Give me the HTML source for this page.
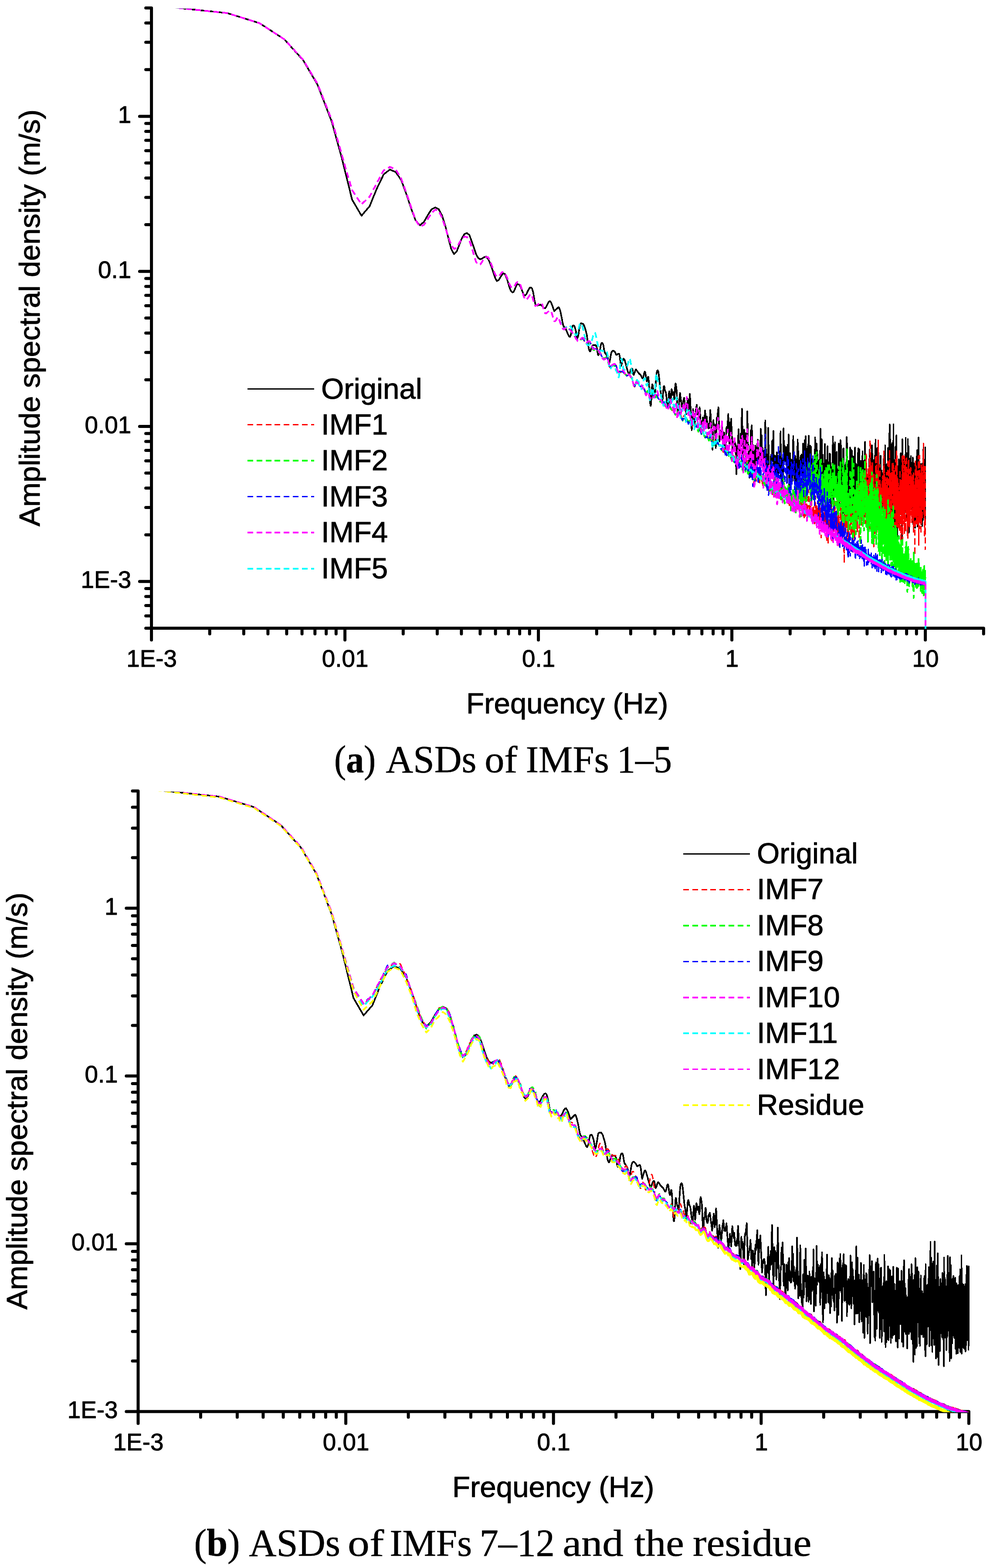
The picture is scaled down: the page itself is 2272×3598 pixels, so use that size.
<!DOCTYPE html>
<html lang="en">
<head>
<meta charset="utf-8">
<title>ASDs of IMFs</title>
<style>
html, body { margin: 0; padding: 0; background: #fff; }
body { width: 2272px; height: 3598px; overflow: hidden; }
svg { display: block; }
text { font-family: "Liberation Sans", Arial, sans-serif; fill: #000; stroke: #000; stroke-width: 1px; stroke-linejoin: round; }
g.cap text { font-family: "Liberation Serif", "DejaVu Serif", serif; stroke-width: 0.6px; }
</style>
</head>
<body>
<svg width="2272" height="3598" viewBox="0 0 2272 3598">
<rect width="2272" height="3598" fill="#fff"/>
<path d="M347.6 18.2V1441.4M347.6 1441.4H2257.3M347.6 1441.4h-13M347.6 1413.2h-13M347.6 1389.4h-13M347.6 1368.8h-13M347.6 1350.6h-13M347.6 1334.3h-27.2M347.6 1227.2h-13M347.6 1164.5h-13M347.6 1120.1h-13M347.6 1085.6h-13M347.6 1057.4h-13M347.6 1033.6h-13M347.6 1013h-13M347.6 994.8h-13M347.6 978.5h-27.2M347.6 871.4h-13M347.6 808.7h-13M347.6 764.3h-13M347.6 729.8h-13M347.6 701.6h-13M347.6 677.8h-13M347.6 657.2h-13M347.6 639h-13M347.6 622.7h-27.2M347.6 515.6h-13M347.6 452.9h-13M347.6 408.5h-13M347.6 374h-13M347.6 345.8h-13M347.6 322h-13M347.6 301.4h-13M347.6 283.2h-13M347.6 266.9h-27.2M347.6 159.8h-13M347.6 97.1h-13M347.6 52.7h-13M347.6 18.2h-13M347.6 1441.4v27.2M481.3 1441.4v13M559.4 1441.4v13M614.9 1441.4v13M657.9 1441.4v13M693.1 1441.4v13M722.8 1441.4v13M748.6 1441.4v13M771.3 1441.4v13M791.6 1441.4v27.2M925.3 1441.4v13M1003.4 1441.4v13M1058.9 1441.4v13M1101.9 1441.4v13M1137.1 1441.4v13M1166.8 1441.4v13M1192.6 1441.4v13M1215.3 1441.4v13M1235.6 1441.4v27.2M1369.3 1441.4v13M1447.4 1441.4v13M1502.9 1441.4v13M1545.9 1441.4v13M1581.1 1441.4v13M1610.8 1441.4v13M1636.6 1441.4v13M1659.3 1441.4v13M1679.6 1441.4v27.2M1813.3 1441.4v13M1891.4 1441.4v13M1946.9 1441.4v13M1989.9 1441.4v13M2025.1 1441.4v13M2054.8 1441.4v13M2080.6 1441.4v13M2103.3 1441.4v13M2123.6 1441.4v27.2M2257.3 1441.4v13" fill="none" stroke="#000" stroke-width="7.0" stroke-linecap="round" stroke-linejoin="round"/>
<g font-size="54.8" text-anchor="end">
<text x="301.2" y="1349.4">1E-3</text>
<text x="301.2" y="993.6">0.01</text>
<text x="301.2" y="637.8">0.1</text>
<text x="301.2" y="282">1</text>
</g>
<g font-size="54.8" text-anchor="middle">
<text x="348.1" y="1530.1">1E-3</text>
<text x="792.1" y="1530.1">0.01</text>
<text x="1236.1" y="1530.1">0.1</text>
<text x="1680.1" y="1530.1">1</text>
<text x="2124.1" y="1530.1">10</text>
</g>
<text x="1301.8" y="1636.9" font-size="67.25" text-anchor="middle">Frequency (Hz)</text>
<text transform="translate(91 729.5) rotate(-90)" font-size="67.25" text-anchor="middle">Amplitude spectral density (m/s)</text>
<path d="M317 1814.9V3239M317 3239H2223.4M317 3239h-27.2M317 3123.1h-13M317 3055.3h-13M317 3007.2h-13M317 2969.9h-13M317 2939.4h-13M317 2913.6h-13M317 2891.3h-13M317 2871.6h-13M317 2854h-27.2M317 2738.1h-13M317 2670.3h-13M317 2622.2h-13M317 2584.9h-13M317 2554.4h-13M317 2528.6h-13M317 2506.3h-13M317 2486.6h-13M317 2469h-27.2M317 2353.1h-13M317 2285.3h-13M317 2237.2h-13M317 2199.9h-13M317 2169.4h-13M317 2143.6h-13M317 2121.3h-13M317 2101.6h-13M317 2084h-27.2M317 1968.1h-13M317 1900.3h-13M317 1852.2h-13M317 1814.9h-13M317 3239v27.2M460.5 3239v13M544.4 3239v13M603.9 3239v13M650.1 3239v13M687.9 3239v13M719.8 3239v13M747.4 3239v13M771.8 3239v13M793.6 3239v27.2M937.1 3239v13M1021 3239v13M1080.5 3239v13M1126.7 3239v13M1164.5 3239v13M1196.4 3239v13M1224 3239v13M1248.4 3239v13M1270.2 3239v27.2M1413.7 3239v13M1497.6 3239v13M1557.1 3239v13M1603.3 3239v13M1641.1 3239v13M1673 3239v13M1700.6 3239v13M1725 3239v13M1746.8 3239v27.2M1890.3 3239v13M1974.2 3239v13M2033.7 3239v13M2079.9 3239v13M2117.7 3239v13M2149.6 3239v13M2177.2 3239v13M2201.6 3239v13M2223.4 3239v27.2" fill="none" stroke="#000" stroke-width="7.0" stroke-linecap="round" stroke-linejoin="round"/>
<g font-size="54.8" text-anchor="end">
<text x="270.6" y="3254.1">1E-3</text>
<text x="270.6" y="2869.1">0.01</text>
<text x="270.6" y="2484.1">0.1</text>
<text x="270.6" y="2099.1">1</text>
</g>
<g font-size="54.8" text-anchor="middle">
<text x="317.5" y="3327.7">1E-3</text>
<text x="794.1" y="3327.7">0.01</text>
<text x="1270.7" y="3327.7">0.1</text>
<text x="1747.3" y="3327.7">1</text>
<text x="2223.9" y="3327.7">10</text>
</g>
<text x="1269.6" y="3434.5" font-size="67.25" text-anchor="middle">Frequency (Hz)</text>
<text transform="translate(62.1 2526.6) rotate(-90)" font-size="67.25" text-anchor="middle">Amplitude spectral density (m/s)</text>
<clipPath id="ca"><rect x="347.6" y="19.7" width="2000" height="1423.2"/></clipPath>
<clipPath id="cb"><rect x="317.0" y="1816.4" width="2000" height="1424.1"/></clipPath>
<g fill="none" stroke-linejoin="round" shape-rendering="crispEdges" clip-path="url(#ca)">
<path d="M386.1 16l20.2 2l115.1 12l73.9 23l56.9 37l43.4 48l32.9 56l32.8 85l23 83l23.7 96l21.7 37l18.7-22l15.4-38l16.8-35l14.3-11l13.3 6l12.5 18l11.7 32l11 33l10.4 28l9.9 11l9.4-8l9-16l8.6-13l8.2-4l7.8 4l7.6 14l7.3 23l7 28l6.8 26l6.5 12l6.3-6l6.1-16l6-15l5.7-9l5.6-2l5.5 4l5.2 14l5.2 15l5 15l4.9 9l4.7 3l4.7-2l4.5-3l4.4-1l4.4 5l4.2 9l4.2 11l4 12l4 12l3.9 7l3.8-2l3.8-6l3.6-6l3.6-4l3.6 2l3.5 8l3.4 10l3.3 12l3.3 8l3.3 4l3.1-1l3.2-7l3.1-8l3-3l3 1l2.9 4l2.9 6l2.9 8l2.8 6l2.8 1l2.7-3l2.7-6l2.7-5l2.6-4l2.6 0l2.5 2l2.6 9l2.4 15l2.5 12l2.4 3l2.4 0l2.4-1l2.3 0l2.3-1l2.3 2l2.3 2l2.2 3l2.2 1l2.2 0l2.1-3l2.2-5l2.1-4l2.1-3l2-1l2.1 2l2 5l2 5l2 6l1.9 5l9.5-9l1.9 2l1.8 5l1.8 7l1.8 9l1.8 10l1.7 8l1.8 4l1.7 1l1.7 3l1.7 3l1.7 4l1.7 4l1.6 4l1.7 3l1.6 1l1.6-2l1.6-6l1.6-10l1.6-7l1.5-1l1.6 0l1.5 2l1.5 5l1.6 6l1.5 8l1.4 9l1.5-3l1.5-7l1.4-9l1.5-10l1.4-4l1.4-2l1.5 0l1.4 1l1.4 0l1.3 1l1.4 3l1.4 3l1.3 4l1.4 5l1.3 5l1.3 6l1.3 11l1.4 10l1.2 7l1.3 5l1.3 3l1.3 0l1.3-4l1.2-4l1.3-3l1.2-2l1.2-1l1.3 0l1.2 0l1.2 0l1.2 0l1.2 0l1.2 2l1.1 3l1.2 6l1.2 9l1.1 3l1.2-1l1.1-3l1.2-4l1.1-7l1.1-7l1.1-4l1.2-2l1.1 0l1.1 1l1.1 2l1 5l1.1 8l1.1 4l1.1 3l1 1l1.1 1l1 2l1.1 2l1 2l1.1 3l1 8l1 8l1-1l1-5l1-5l1-5l1-6l1-5l1-2l1-2l1-1l.9 0l1 0l1 1l.9 0l1 1l.9 1l1 2l.9 3l.9 1l1 0l.9 0l.9-1l.9-1l.9 0l1 0l.9 0l.9 3l.9 5l.8 7l.9 9l.9 4l.9-2l.9-4l.8-3l.9-2l.9-3l.8-1l.9-2l.8 1l.9 1l.8 2l.9 3l.8 3l.8 3l.9 3l.8 3l.8 4l.8 2l.8 3l.9 3l.8 2l.8 2l.8 1l.8-1l.8-3l.8-2l.7-3l.8-2l.8-1l.8-1l.8 0l.7 0l.8 1l.8 5l.7 5l.8 3l.8 0l.7-2l.8-2l.7-2l.8-3l.7-2l.7-1l.8 0l.7 1l.7 1l.8 1l.7 1l.7 1l.7 1l.8 1l.7 1l.7 1l.7 0l.7 1l.7 1l.7 0l.7 1l.7 1l.7 1l.7 1l.7 2l.7 2l.7 1l.6 0l.7-1l.7-1l.7-2l.7-3l.6-3l.7-3l.7-2l.6 0l.7 1l.6 3l.7 4l.7 5l.6 5l.7 3l.6 1l.7-1l.6-3l.6-4l.7-2l.6 0l.7 5l.6 8l.6 10l.6 11l.7 11l.6 9l.6 7l.6 5l.7 0l.6-5l.6-9l.6-12l.6-11l.6-9l.6-3l.6 1l.6 4l.6 5l.6 3l.6 2l.6 2l.6 2l.6 3l.6 2l.6-1l.6-4l.6-8l.6-9l.5-11l.6-8l.6-7l.6-3l.5-3l.6-1l.6-1l.6 0l.5 1l.6 1l.6 3l.5 3l.6 5l.5 5l.6 5l.6 6l.5 6l.6 6l.5 4l.6 4l.5 3l.6 3l.5 4l.6 5l.5 4l.5 3l.6 0l.5-3l.6-7l.5-7l.5-7l.6-6l.5-4l.5-1l.5 0l.6 2l.5 4l.5 3l.5 2l.6 1l.5 1l.5 1l.5 2l.5 4l.5 4l.6 5l.5 5l.5 3l.5 4l.5 3l.5 2l.5 0l.5-3l.5-6l.5-8l.5-9l.5-6l.5-2l.5 3l.5 8l.5 9l.5 7l.5 3l.4-3l.5-7l.5-9l.5-8l.5-6l.5-2l.5 2l.4 4l.5 4l.5 3l.5 0l.4-1l.5-3l.5-2l.5 0l.4 3l.5 6l.5 5l.4 2l.5-3l.5-8l.4-9l.5-9l.5-5l.4-2l.5 1l.4 2l.5 3l.4 3l.5 4l.5 6l.4 9l.5 11l.4 12l1.4 21l4.8-50l4.3 32l5.1-21l4.9 37l3.2-35l2.4 28l2.7-39l4.3 83l3-48l3.7 36l2.9-36l.3 0l1.5-10l1.8 22l1.4-5l1 6l2.5-17l4.1 58l3.3-35l2.7 26l2.2-42l2.9 25l1.3-11l1.6 25l.9-4l1.3 6l1.2-11l.9 10l2.2-41l5.1 91l2-68l1.5 23l1.5-12l2.3 53l2.2-69l.9 3l3-27l2.5 78l3.8-26l.5 1l1.3-18l1.6 41l1.1-19l1 35l1.8-34l2.8 36l2.3-49l1 12l3-42l2.4 72l2.2-53l.7 7l1.2-15l3.5 79l2.6-27l.9 6l1.1-8l.9 9l.7-4l2.3 72l1.7-64l1.1 14l2.2-53l1.3 75l1.5-43l.9 16l1.3-38l1 28l1.9-85l3.1 138l1.9-90l1.2 17l1.2-9l1.8 61l1-40l.8 15l1.3-86l1.8 86l.4-1l2.5 67l1.7-68l.6 6l1.1-47l1.1 28l1.1-39l2.4 91l1.1-45l2.7 82l2-81l2 50l.3-1l.5 6l1.3-60l.5 4l1.2-13l1.2 48l1.2-19l1 22l.9-14l.8 14l1.3-76l1.2 47l1-32l1 59l1-30l.8 26l.3-1l1 21l1.9-40l1.1 29l1.3-98l2.5 129l.9-46l1.9 41l1.5-107l1.2 98l.5-10l1.4 33l.9-24l.7 40l1.5-75l1.3 48l1.2-80l1.1 46l1.9-69l1.6 112l.8-48l.8 34l.8-41l.8 19l.5-4l.8 41l1.8-64l1 58l1.1-23l1 33l1-57l.5 15l.4-3l.6 17l1-42l1.1 40l.9-86l1.2 131l1.2-69l.8 24l.6-16l1.3 50l1.8-127l1.1 83l1.4-43l.9 34l.7-26l.9 29l.5-23l.6 21l.6-32l.9 82l1.7-87l.8 59l1.4-83l1.9 148l1.7-105l1.7 75l1.1-60l.6 22l.6-10l.9 37l.8-47l.3 0l1.1-56l.9 62l.6-11l1.1 51l.6-33l.4 6l.6-30l2.1 79l1.4-71l.7 57l1.7-102l.9 78l.9-52l.8 59l.7-20l.9 27l.5-14l.9 33l1.2-74l.6 37l.4-8l.2 0l.8-32l1.3 50l.3-4l.6 57l.7-92l.3 6l.5-42l1.6 112l1.3-84l.2 0l.9-36l1 67l.8-76l.6 52l.8-19l.7 48l.6-52l.7 112l.6-88l.4 49l.9-79l.2 3l.5-8l.3 3l.3-7l.2 2l.5-17l.8 68l.4-7l.6 39l1.6-77l1.1 75l.6-73l.8 59l.4-11l.4 59l.7-74l.5 28l.2-1l.9 20l.6-51l1.6 48l.3-25l.5 31l.7-37l.8 34l.9-101l.4 22l.2-2l1.1 92l.7-50l.1 0l.9-48l.6 42l.5-27l.4 18l.5-9l.6 49l.4-20l.6 35l.8-40l.8 84l.8-94l.6 24l.4-17l.5 63l.5-92l.5 42l.6-92l.9 90l.3-3l.5 55l1-118l.9 117l.6-45l.4 19l.8-55l.8 101l.7-74l.4 34l.2-13l.4 29l.7-58l.5 28l.7-72l1.5 124l.6-86l.5 74l.6-75l.4 33l.3-22l.6 100l.7-90l.5 47l.6-100l1.1 154l.6-117l.4 14l.5-13l.2 7l.2-4l.5 39l1.2-63l.5 93l.6-92l.5 63l.2-6l.2 5l.5-42l1.1 107l1.2-96l.1 0l.2-1l.5 39l.2-5l.4 24l.5-81l.3 8l.7-55l.9 187l.7-134l.3 11l.3-11l.2 2l.7-25l.2 7l.2-12l.5 41l.8-53l.9 87l1.6-60l.2 4l.2-4l.4 50l.6-55l.6 92l.7-51l.6 99l.4-24l.2 3l.3-7l.4 35l1.3-162l.1 6l.3-10l.6 92l.3-26l.4 75l.4-66l.3 19l.1-2l.3 11l1.2-111l.6 72l0-1l.4 28l.5-87l.4 100l.4-24l.5 27l.3-17l.4 6l.6-61l.4 125l.9-112l.2 8l.6-44l.4 64l.3-14l.2 16l.4-67l.3 51l.2-6l.6 113l.9-67l.5 18l.3-15l.3 14l.5-69l.4 59l.7-56l.1 4l.3-13l.3 39l.2-9l.4 72l.8-161l.3 74l.4-61l.5 97l.4-28l.9 113l1-91l.4 81l.5-130l.4 94l.4-78l.6 63l.2-27l.3 12l.1-5l.4 64l.9-154l.7 57l.1 0l.4 99l.3-39l.1 10l.6-122l.4 111l.3-38l.7 44l.4-69l.2 15l.6-60l.9 142l.2-15l.2 26l.3-64l.4 30l.3-26l.2 16l.9-96l.8 130l.4-62l.2 45l.4-62l.2 5l.1-3l.5 72l.6-146l.4 119l.2-18l.3 36l.4-55l.3 62l.4-107l.4 28l.2-15l.3 41l.3-38l.3 65l.4-48l.2 13l.2-4l.2 12l.3-16l.9 84l.4-121l.4 103l.6-130l.3 16l.2-25l.2 30l.2-5l.3 61l.3-24l.8 107l.2-33l.2 5l.4-139l.3 72l.3-46l.3 56l.2-44l.3 45l.4-32l.5 97l.6-117l.6 74l.5-78l.5 39l.3-32l.7 84l.4-24l.2 8l.3-71l.2 6l.5-32l.8 150l.5-50l.6 45l.4-123l.2 14l.2-12l.6 123l.3-51l.2 65l.7-114l.2 28l.4-86l.3 44l.3-55l.6 132l.6-83l.4 102l.3-69l.2 9l.2-13l.3 20l.3-39l.6 97l.3-82l.5 74l.4-47l.3 33l.3-52l.4 31l.2-18l.2 10l.2-14l.4 95l.4-108l.3 48l.3-32l.4 53l.2-45l.3 51l.7-113l.3 89l.2-16l.4 43l.5-138l.4 105l.1-3l.2 2l.3-93l.3 52l.2-14l.4 15l.3-47l.3 26l.1-1l.4 90l.2-36l.2 37l.3-46l.1 3l.1-2l.2 19l.3-56l.2 43l.4-104l.3 158l.9-139l.2 9l0-3l.3 104l.4-96l.3 67l.1-8l.3 77l.5-84l.6 60l0-1l.3 63l.5-173l.1 1l.1-1l.3 99l.3-39l.4 64l.3-56l.2 42l.5-121l.5 169l.6-114l0 5l.5-96l.5 180l.6-116l.3 126l.6-92l.1 10l.4-66l.5 145l.2-72l.2 11l.4-107l.4 117l.3-27l.1 7l.4-37l.2 20l.2-21l.3 51l.3-50l.1 1l.3-51l.1 19l.2-13l.7 105l.2-13l.4 53l.4-71l.2 27l.3-66l.3 28l.3-33l.3 121l.5-94l.1 5l.2-11l.4 73l.7-122l.7 94l.4-56l.4 87l.1-20l.1 7l.2-13l.2 17l.3-82l.4 86l.3-64l.5 55l.3-54l.1 15l.3-31l.2 24l.1-16l.3 43l.1-19l.3 58l.4-92l.3 65l.2-14l.2 31l.2-90l.3 90l.3-115l.3 65l.2-70l.4 122l.3-95l.2 58l.2-49l.2 121l.3-71l.5 84l.5-195l.4 71l.2-27l.3 101l.4-89l.4 114l.2-92l.3 44l.3-64l.2 111l.3-99l.2 27l.4-36l.2 45l.3-63l.2 89l.3-80l.2 67l.4-47l.2 43l.1-15l.1 20l1.1-114l.4 112l.1-14l.2 10l.2-35l.2 94l.4-137l.1 52l.2-54l.3 106l.4-71l.2 14l.4-112l.2 113l.3-132l.4 161l.2-17l.3 40l.4-150l.3 79l.1-9l.2 38l.1-16l.3 93l.5-121l.2 39l0-4l.2 29l.4-46l.2 118l.4-148l.3 94l.4-134l.2 97l.2-25l.1 19l.5-94l.4 158l.1-35l.2 10l0-2l.2 12l.2-42l.1 48l.3-93l.2 59l.1-58l.3 119l.8-219l.3 154l.1-21l.3 59l.3-61l.3 63l.3-78l.3 29l.3-37l.5 139l.4-165l.3 49l.2-30l.1 31l.4-52l.4 58l.2-87l.2 99l.3-77l.7 124l.2-66l.3 114l.4-220l.3 97l.2-36l.1 46l.2-58l.4 126l.3-85l.3 146l.2-95l.3 61l.3-131l.2 71l.2-39l.4 38l.1-30l.2 32l.1-17l.3 49l.1-12l.1 44l.4-112l.1-14l.3 81l.3-104l0 6l.1-9l.3 109l.1 5l.3-71l.3 44l.2-26l.2 33l.1 0l.2 16l.1-13l.2 15l.3-103l.4 106l.2-70l.2 54l.3-68l.4 92l.6-137l.4 129l.5-113l.2 75l.2-64l.3 66l0-4l.2 50l.3-67l.1 70l.3-65l.1 44l.3-26l.2 104l.4-231l.2 133l.2-61l.3 82l.2-58l.1 2l.2-55l.1 67l.2-23l.2 50l.2-64l.2 96l.5-122l.4 116l.2-56l.3 13l.2-59l.2 81l.2-79l.1 51l.1-4l.5 86l.2-105l.2 60l.3-62l.4 80l.3-64l.1 9l.4-78l.2 131l.2-45l.1 22l.3-96l.2 77l.2-128l.2 127l.2-38l.2 52l.5-95l.3 78l.1-31l.2 39l.2-97l.2 122l.2-64l.3 65l.2-79l.4 107l.2-128l.3 127l.1-40l.2 77l.4-163l.2 79l.3-135l.4 163l.3-111l.2 69l.2-38l.2 56l.1-25l.1 6l.3-104l.4 198l.3-118l.5 103l.3-89l.1 51l.2-32l.1 24l.2-48l.1 8l.1-16l.2 24l.1-57l.2 26l0-1l.3 92l.2-41l.1 14l.3-110l.2 90l.3-67l.2 11l0-11l.3 73l.5-101l.2 32l.1-8l.2 86l.3-33l0 11l.2-28l.1 7l0-5l.2 48l.2-82l.3 38l.1-15l.3 80l.2-72l.2 55l.2-29l.3 29l.3-100l.2 56l.1-24l.3 65l.2-108l.7 152l.2-105l.1 24l.2-22l.1 44l.2-44l.2 75l.1-12l.1 49l.3-141l.2 76l.2-83l.2 81l.2-34l0 3l.2-10l.2 107l.2-54l.1 12l.2-73l.1 15l.1-30l.4 107l.1-14l.1 7l.1-26l.1 24l.1 0l.2 33l.3-74l.1 16l.2-28l.2 39l.3-98l.2 56l.2-48l.4 89l.2-52l.1 64l.2-106l.2 79l.1-24l.1 35l.5-82l.2 122l.5-152l.2 104l.1-26l.2 30l.2-89l.2 39l.2-72l.1 160l.2-72l.1 87l.2-66l.1 10l.1-28l.1 22l.2-23l.2 48l.2-35l.2-35l.2 56l.1-26l.1 2l.3-70l.2 34l.4-93l.1 83l.1-31l.2 155l.3-128l.1 17l.2-38l.2 76l.2-41l.1 4l.1-26l.2 45l0-4l.2 41l.1-7l.1 28l.2-87l.1 35l.1-17l.2 41l.1-31l.2 72l.2-109l.2 76l.2-51l.1 44l.1-27l.1 13l.1-5l.2 67l.2-134l.1 69l.2-58l.2 69l0-12l.2 60l.1-24l.2 29l.2-40l.1 21l.2-45l.1 10l.1-2l.1 36l.2-81l.1 36l.2-64l.3 133l.3-54l.1 23l.3-46l.2 20l.2-81l.2 143l.2-133l.2 81l.2-39l.1 23l.3-49l.1 23l.1-29l.2 110l.2-62l0 3l.4-40l0 6l.1-23l.2 40l.1-75l.2 103l.2-116l.1 16l.1-21l.3 154l.2-60l.1 64l.2-76l.1 15l.1-24l.2 84l.1-25l0 8l.2-61l.1 64l.2-110l.4 73l.2-23l.1 16l0-2l.2 46l.1-14l.1 10l.3-109l.2 148l.2-111l.2 103l.4-168l0 10" stroke="#000" stroke-width="3.7"/>
<path d="M386.1 16l20.2 2l115.1 12l73.9 23l56.9 37l43.4 47l32.9 55l32.8 83l18.7 64l13.1 47l14.9 50l21.5 33l18.9-18l15.4-29l14.8-28l2-3l14.3-8l13.3 6l12.5 21l11.7 32l11 33l10.4 30l9.9 15l9.4-4l9-14l8.6-13l8.2-8l7.8 3l7.6 15l7.3 22l7 22l6.8 19l6.5 9l6.3-2l6.1-12l6-10l5.7-4l5.6 1l5.5 7l5.2 16l5.2 18l5 16l4.9 6l4.7 0l4.7-7l4.5-8l4.4-2l4.4 0l4.2 8l4.2 11l4 11l4 10l3.9 5l3.8-1l3.8-4l3.6-5l3.6-1l3.6 3l3.5 7l3.4 8l3.3 10l3.3 6l3.3 2l3.1 0l3.2-5l3.1-6l3-2l3 1l2.9 5l2.9 8l2.9 11l2.8 10l2.8 5l2.7 1l2.7-3l2.7-4l2.6-4l2.6-2l2.5 3l2.6 10l2.4 9l2.5 5l2.4-1l2.4-1l2.4-2l2.3-2l2.3-1l2.3 0l2.3 5l2.2 8l2.2 8l2.2 3l2.1 0l2.2-2l2.1-2l2.1-1l2-1l2.1 0l2 5l2 7l2 7l1.9 5l2 0l1.9-2l1.9-4l1.9-3l1.8 0l1.9 6l1.8 5l1.8 5l1.8 4l1.8 4l1.7 2l1.8 2l1.7-1l1.7-1l1.7-2l1.7 0l1.7 0l1.6 1l1.7 1l1.6 2l1.6 1l1.6 2l1.6 2l1.6 3l1.5 2l1.6 3l1.5 3l1.5 3l1.6 2l1.5 2l1.4 2l1.5 1l1.5 1l1.4-1l1.5 0l1.4-2l1.4-1l1.5-1l1.4-1l1.4 1l1.3 1l1.4 3l1.4 2l1.3 2l1.4 2l1.3 0l1.3 0l1.3-1l1.4-2l1.2 0l1.3 0l1.3 2l1.3 2l1.3 3l1.2 2l1.3 3l1.2 2l1.2 1l1.3 1l1.2 0l1.2 0l1.2-1l1.2 0l1.2-1l1.1 1l1.2 1l1.2 1l1.1 2l1.2 1l1.1 2l1.2 2l1.1 2l1.1 2l1.1 3l1.2 3l1.1 2l1.1 1l1.1 1l1 0l1.1 0l1.1 0l1.1 0l1-1l1.1-1l1 0l1.1 0l1 1l1.1 3l1 4l1 5l1 4l1 3l1 2l1 0l1 0l1-2l1-2l1-1l1-1l.9 0l1-1l1 0l.9 0l1 0l.9 0l1 1l.9 1l.9 1l1 3l.9 3l.9 3l.9 3l.9 3l1 1l.9 0l.9 0l.9 0l.8-1l.9 0l.9 0l.9 0l.9-1l.8 0l.9 0l.9 1l.8 0l.9 1l.8 1l.9 1l.8 1l.9 1l.8 1l.8 0l.9 1l.8 0l.8 1l.8 0l.8-1l.9 0l.8-1l.8 0l.8 0l.8 1l.8 1l.8 1l.7 1l.8 1l.8 1l.8 1l.8 2l.7 2l.8 2l.8 3l.7 3l.8 4l.8 3l.7 1l.8 1l.7-2l.8-2l.7-3l.7-3l.8-2l.7-1l.7-1l.8 1l.7 1l.7 2l.7 1l.8 2l.7 1l.7 1l.7 1l.7 1l.7 0l.7 1l.7 1l.7 0l.7 0l.7-1l.7 0l.7 1l.7 0l.6 1l.7 1l.7 0l.7 1l.7 1l.6 1l.7 1l.7 2l.6 2l.7 2l.6 2l.7 1l.7 1l.6 0l.7-1l.6-2l.7-1l.6-1l.6-1l.7 0l.6 0l.7 1l.6 1l.6 1l.6 2l.7 2l.6 2l.6 2l.6 0l.7 0l.6-1l.6-1l.6-1l.6-1l.6 0l.6 1l.6 1l.6 1l.6 2l.6 1l.6 1l.6 1l.6 1l.6 0l.6 0l.6-1l.6-1l.6-1l.6-1l.5-2l.6-1l.6 0l.6 0l.5 0l.6 2l.6 2l.6 2l.5 2l.6 1l.6 1l.5 1l.6 1l.5 0l.6 1l.6 1l.5 0l.6 0l.5 0l.6 0l.5 0l.6 0l.5 0l.6 0l.5 1l.5 2l.6 1l.5 1l.6 1l.5 0l.5 0l.6 0l.5-1l.5 0l.5 1l.6 1l.5 1l.5 2l.5 1l.6 0l.5 1l.5 0l.5 0l.5-1l.5 0l.6 0l.5 1l.5 0l.5 1l.5 1l.5 0l.5 0l.5 1l.5 0l.5 0l.5 0l.5 0l.5-1l.5 0l.5 0l.5 1l.5 0l.5 1l.4 1l.5 1l.5 0l.5 1l.5 1l.5 1l.5 0l.4 1l.5-1l.5 0l.5-1l.4-1l.5 0l.5 1l.5 1l.4 1l.5 1l.5 2l.4 0l.5 1l.5 1l.4 0l.5 1l.5 1l.4 0l.5 1l.4 0l.5 1l.4 0l.5-1l.5 0l.4-1l.5-1l.4-1l1.4-1l1.7 1l2.2-2l6.5 19l3.8-11l4.9 10l1.2-1l3.2 9l2.4-8l6.9 15l2.2-4l2.3 6l1.8-3l1.1 1l1.8-2l4.6 15l3.5-5l4.1 9l2.4-7l5.2 16l2-3l1.9 2l.3 0l1.3 1l1.5-3l1 1l.6 0l2.1 3l2.2-3l3.9 18l1.8-9l2.3 9l2-10l2.1 6l1.1-2l1.7 3l1.7-2l4.1 9l1.1-1l2.9 6l1.1-1l3.7 10l2.8-9l1.8 8l.8-1l1.5 7l2.3-15l1.2 3l.5 0l2.4 13l2.2-5l.7 0l1.2-4l2.6 21l2.6-11l1.8 4l.7-1l1.8 11l1.4-11l1.1 8l1.1-3l2 5l1.8-4l1.7 8l.4 0l1.3 5l2.2-9l.8 1l1.9-15l2.7 35l1.6-14l2.7 7l2.6-16l1.2 13l1-11l1.5 21l.8-2l1.9 3l1.2-4l2.3 9l3.1-14l2.3 13l.9-5l1.6 32l2-22l.4 0l1-5l2 20l2.8-22l1.9 21l1.5-16l2.1 21l1.5-19l5.6 25l1.8-15l.6 3l.8-5l1 14l1.1-24l2.2 30l1.1-15l1.1 22l2.6-22l1 26l1.3-16l.9 6l.3 0l.9 8l1.4-20l1.4 24l1-21l1.7 27l1.8-11l.6 1l.4-1l.6 2l.5-2l1 14l1.7-18l1.3 21l1.1-24l1.2 22l.7-9l.7 9l.3 0l.6 5l1-26l.8 12l.3-1l.8 8l1.3-16l.8 11l.8-15l1 24l1.1-17l1 19l.9-4l.8 8l.9-26l.6 5l.6-2l1.4 16l.3-2l.5 2l.5-5l.7 11l.8-14l1.3 12l1-11l.9 25l1.6-31l1.1 29l.3 0l.1 0l.8-13l.6 6l.4-2l.7 12l.7-8l.6 6l1.2-27l1 10l.4-1l1.1 21l1.1-17l.7 11l1.5-23l1.4 20l.5-3l.7 6l.3-2l.6 6l.9-19l1.6 20l.2 0l.6 6l1.5-21l1 28l1.8-43l1 38l.7-19l1 18l.5-4l.3 0l.6-10l1 22l1.3-32l.9 22l1.3-11l.6 9l.9-18l.7 27l.4-7l.2 1l.9-33l.8 34l.2-1l1.3 22l1.3-30l1.3 27l1-47l.5 13l.4-7l.9 39l.8-31l.9 29l.4-6l.5 12l.8-26l.3 2l1.5-39l1.9 58l.7-20l.6 8l.5-4l.7 25l.8-49l.4 9l.5-16l1 55l.8-20l.5 10l.5-9l.5 19l.5-25l.7 11l.5-13l1 29l1-21l.8 31l.7-39l.2 1l.6-26l.8 56l.7-36l.8 28l.9-25l1 27l.6-25l.5 12l.2-4l.6 20l.7-23l1.1 32l.8-48l1.4 56l.5-36l.5 41l.7-47l1.8 68l.9-51l.7 30l.5-11l.5 18l.7-54l.8 43l.7-27l1.1 34l.9-40l.5 26l.7-42l.5 24l.3-1l.7 30l.5-32l.6 36l.7-25l1 50l.7-39l.5 27l1.2-59l.7 75l.6-54l.4 6l.1-1l.6 21l.4-37l.4 25l.7-13l.4 5l.2-2l.4 7l.2-4l.5 14l.4-18l.3 15l.5-22l.3 12l.1 0l.6 18l.8-52l1.2 77l1.4-64l.5 32l.4-8l.9 40l1.1-62l.2 3l.6-34l.5 16l.7 42l.5-45l.9 61l.4-29l.4 18l.4-10l.1 1l.3-12l.5 32l.6-41l1 45l.8-78l.6 74l.3-10l.4 13l.6-14l1.1-40l.4 25l.2-8l.5 40l.3-14l.4 40l1.1-45l.2 1l1.1-69l.7 49l.6-38l.6 69l.4-31l.4 17l.4-14l.6 32l.5-34l.4 51l.5-42l.7 10l.3-11l.4 20l.3-15l.3 25l.6-47l.8 108l.9-106l.6 45l.5-53l.3 15l.2-16l.5 45l.5-30l.3 15l.8-36l.6 37l.5-38l.4 41l.5-49l.3 17l.4-6l.9 102l1.1-84l.3 13l.4-31l.5 82l.6-48l.8 40l.5-13l.3 23l1-101l.4 54l.4-34l.6 45l.4-55l.5 49l.3-8l.3 22l.8-68l.5 38l.5-40l.7 60l.1-4l.4 51l.4-43l.3 27l.3-38l.2 3l.6-65l.5 60l.4-22l.4 25l.2-2l.2 18l.7-81l.4 90l.6-72l.4 36l.3-51l.4 58l1-67l.4 31l.3-51l.7 91l.5-65l.2 7l.1-5l.4 29l.2-16l.2 6l.3-14l.4 65l.4-49l.3 7l.2-10l.1 6l.4-55l.6 23l.3-38l.2 22l.3-26l.9 136l.8-114l.3 15l.2-27l.4 93l.6-47l.2 10l.3-30l.4 48l.8-39l.3 43l.4-70l.4 89l.5-73l.4 49l.3-37l.3 39l.3-24l.2 12l.5-80l1.2 98l.8-64l.4 70l.6-115l.6 109l1.1-85l.3 15l.3-29l.4 37l.5-47l.4 87l.3-34l.1 2l.1-2l.6 66l.5-86l.3 21l.4-94l.8 140l.2-39l.5 66l.4-101l.3 49l.7-69l.7 98l.1 0l.2 17l.4-117l.2 6l.2-19l.4 120l.3-34l.3 45l.7-134l.9 148l.5-169l.3 93l.3-40l.1 9l.5-101l.4 137l.7-73l.6 57l.3-62l.4 76l.5-34l.4 27l.4-40l.5 95l.3-22l.4-111l.3 51l.1-11l.2 8l.2-46l.8 153l.6-90l.4 44l.3-21l.3 107l.7-167l.3 43l.1-5l.3 42l.3-45l.4 76l.3-72l.1 1l.2-13l.4 109l.3-85l.4 43l.4-137l.3 125l.2-33l.2 12l.3-69l.6 144l.3-40l0 1l.4-141l.7 177l.4-78l.1 3l.4-66l.3 89l.4-72l.1 5l.2-19l.2 37l.2-13l.3 64l.8-161l.5 102l.1-1l.3 75l.3-68l.4 76l.3-52l.2 23l.2-39l.3 53l.1-7l.2 27l.3-44l.2 43l.3-132l.3 99l.3-57l.5 104l.4-105l.4 53l.2-35l.3 28l.2-34l.5 41l.1-7l.1 5l.3-32l.7 109l.5-126l.5 41l.3-55l.1 4l.1-7l.3 30l.2-18l.3 45l.1-26l.3 62l.4-70l.3 50l.6-97l.2 92l.3-125l.4 66l.1-4l.3 114l.4-135l.6 135l.3-74l.3 69l.1-13l.2 10l.4-108l.2 33l.2-7l.2 28l.2-38l.9 109l.5-100l.3-10l.3 65l.6-91l.1 6l.2-2l.2 80l.2-53l.3 84l.3-49l.2 12l.3-65l.2 52l.1-8l.2 9l.1-12l.1 7l.7-92l.5 172l.3-94l.2 12l.1-5l.2 25l.6-108l.4 124l.3-61l.2 21l.3-57l.2 22l0-1l.2 28l.2-99l.4 154l.3-61l.3 66l.3-90l.2 29l.2-44l.2 31l.2-16l.2 44l.2-26l.1 4l.2-20l.4 73l.4-52l.2 86l.4-103l.2 35l.2-23l.1 6l.3-42l.2 84l.3-59l.1 9l.2-55l.3 51l.1-26l.3 48l.2-17l.2 13l.1-23l.2 37l.3-42l.3-40l.2 146l.4-128l.2 32l.2-27l.2 76l.3-94l.3 62l.3-53l.3 88l.4-79l.2 13l.1-17l.6 123l.4-89l.4 46l.4-70l.2 45l.2-33l.1 21l.3-71l.3 101l.3-41l0 3l.2-11l.4 49l.2-38l.2 126l.6-208l.3 125l.2-58l.1 20l.3-76l.3 98l.2-50l.3 82l.3-78l.3 105l.2-46l.2 52l.3-106l.2 31l.2-35l.2 46l.2-37l.5 102l.2-94l.2 37l.1-4l.2 28l.2-45l.2 59l.3-40l.1 8l.2-7l.3 62l.2-80l.6 83l.2-102l.3 77l.4-92l.2 13l.2-35l.3 75l.1-3l.3 22l.4-42l.2 21l.2-49l.4 154l.4-145l.2 46l.4-34l.2 48l.5-58l.1 3l.1-3l.2 78l.3-81l.3 117l.4-184l.2 130l.2-114l.3 181l.3-122l.2 40l.3-113l.4 90l.2-21l.2 77l.2-50l.1 20l.2-6l.2 47l.6-117l.2 62l.2-56l.1 2l.1 0l.3 131l.4-100l.2 31l.2-110l.5 117l.3-69l.3 36l.2-33l.3 64l.3-93l.1 15l.2-23l.2 68l.1-51l.3 144l.6-128l.2 58l.2-72l.1 21l.2-52l.1 51l.1-24l.3 121l.3-93l.3 60l.1-53l.2 7l.1-7l.1 65l.2-75l.4 106l.1-15l.1 39l.6-133l.1 9l.1-28l.5 158l.4-176l.3 53l.2 28l.2 45l.4-132l.4 154l.3-82l.4 78l.3-62l.3 30l.1-7l.2 46l.3-96l.1 10l.1-33l.2 46l.1-18l.3 81l.6-130l.2 45l.1-6l.1 3l.1-2l.1 17l.1-22l.4 77l.3-108l.2 18l.1-6l.4 81l.3-51l.1 6l.1-17l.7 94l.2-53l.1 20l.2-37l.2 29l.6-64l.1 14l0-8l.4 62l.1-16l.2 40l.2-99l.2 56l.2-16l.3 67l.2-87l.2 43l.2-49l.1 3l.1-19l.5 136l.2-73l.2 8l.2-46l.2 20l.1-3l.2 35l.2-44l.2 47l0-3l.2 23l.3-73l.3 61l.3-44l.3 48l.1-22l.3 119l.3-162l.1 1l0-2l.4 76l.2-134l.2 92l.2-48l.2 67l.2-49l0 2l.2-9l.2 34l.2-64l.4 45l.1-54l.3 133l.1-32l.2 23l.2-56l.1 53l.2-85l0 2l.1-8l.3 94l.3-114l.2 32l.1-9l.2 83l.1-54l.2 39l.2-44l.1 22l.2-37l.2 40l.2-34l.2 44l.1-5l.2 50l.1-111l.2 48l.3-34l.2 31l.1-9l0 3l.2-88l.5 205l.3-110l0 5l.2-24l.2 47l.3-41l.1 28l.1-30l.2 36l.1-30l.1 18l.1-5l.1 68l.4-168l.1 98l.2-62l.3 46l0-6l.3 70l.2-25l.1 5l.3-61l.2 84l.2-111l.1 48l.1-28l.4 61l.1-45l.2 63l0-3l.2 35l0-6l.2 13l.2-75l.1 10l.1-19l.1 25l.1-14l.2 52l.2-133l.3 79l.2-22l.1 9l.1-28l.1 27l.1-10l.3 27l.2-77l.2 78l.2-58l.2 100l.2-105l.2 73l.2-39l.1 48l.1-31l.1 21l.2-60l.3 58l.3-115l.1 34l.2-43l.2 88l.1-104l.2 38l.1-14l.2 100l.1-13l0 7l.1-26l.3 71l.2-52l.2 51l.1-42l.1 14l.1-76l.2 62l.1-70l.3 103l.2-55l.2 57l.1-18l.1 76l.6-151l.2 83l.1-28l.2 127l.4-190l.1 27" stroke="#f00" stroke-width="3" stroke-dasharray="13 7.8"/>
<path d="M386.1 16l20.2 2l115.1 12l73.9 23l56.9 37l43.4 47l32.9 55l32.8 83l18.7 64l13.1 47l14.9 50l21.5 33l18.9-18l15.4-29l14.8-28l2-3l14.3-8l13.3 6l12.5 21l11.7 32l11 33l10.4 30l9.9 15l9.4-4l9-14l8.6-13l8.2-8l7.8 3l7.6 15l7.3 22l7 22l6.8 19l6.5 9l6.3-2l6.1-12l6-10l5.7-4l5.6 1l5.5 7l5.2 16l5.2 18l5 16l4.9 6l4.7 0l4.7-7l4.5-8l4.4-2l4.4 0l4.2 8l4.2 11l4 11l4 10l3.9 5l3.8-1l3.8-4l3.6-5l3.6-1l3.6 3l3.5 7l3.4 8l3.3 10l3.3 6l3.3 2l3.1 0l3.2-5l3.1-6l3-2l3 1l2.9 5l2.9 8l2.9 11l2.8 10l2.8 5l2.7 1l2.7-3l2.7-4l2.6-4l2.6-2l2.5 3l2.6 10l2.4 9l2.5 5l2.4-1l2.4-1l2.4-2l2.3-2l2.3-1l2.3 0l2.3 5l2.2 8l2.2 8l2.2 3l2.1 0l2.2-2l2.1-2l2.1-1l2-1l2.1 0l2 5l2 7l2 7l1.9 5l2 0l1.9-2l1.9-4l1.9-3l1.8 0l1.9 5l1.8 6l1.8 5l1.8 4l1.8 4l1.7 2l1.8 2l1.7-2l1.7-2l1.7-1l1.7-1l1.7 1l1.6 1l1.7 2l1.6 2l1.6 2l1.6 2l1.6 3l1.6 2l1.5 2l1.6 2l1.5 2l1.5 3l1.6 3l1.5 2l1.4 2l1.5 1l1.5 1l1.4 0l1.5-1l1.4-2l1.4-1l1.5-2l1.4 0l1.4 0l1.3 1l1.4 3l1.4 2l1.3 3l1.4 1l1.3 1l1.3-1l1.3-1l1.4-1l1.2-1l1.3 0l1.3 1l1.3 3l1.3 3l1.2 3l1.3 3l1.2 3l1.2 2l1.3 1l1.2 0l1.2-1l1.2-1l1.2 0l1.2 0l1.1 0l1.2 2l1.2 1l1.1 1l1.2 1l1.1 1l1.2 2l1.1 1l1.1 2l1.1 3l1.2 3l1.1 2l1.1 1l1.1 1l1 0l1.1 0l1.1 0l1.1 0l1-1l1.1 0l1-1l1.1 1l1 1l1.1 3l1 5l1 5l1 4l1 4l1 2l1 0l1-1l1-1l1-2l1-1l1-1l.9 0l1-1l1 0l.9 1l1 0l.9 1l1 1l.9 1l.9 2l1 1l.9 3l.9 2l.9 2l.9 1l1 1l.9 0l.9-1l.9-1l.8 0l.9-1l.9 0l.9 0l.9 0l.8-1l.9 0l.9 1l.8 0l.9 1l.8 1l.9 2l.8 1l.9 2l.8 1l.8 1l.9 1l.8 1l.8 0l.8 0l.8-1l.9-1l.8-1l.8-1l.8 0l.8 1l.8 1l.8 2l.7 1l.8 1l.8 2l.8 1l.8 2l.7 2l.8 2l.8 2l.7 3l.8 4l.8 2l.7 1l.8 0l.7-1l.8-2l.7-2l.7-3l.8-2l.7-1l.7 0l.8 0l.7 1l.7 1l.7 1l.8 2l.7 2l.7 1l.7 1l.7 1l.7 1l.7 1l.7 0l.7 0l.7 0l.7 0l.7 0l.7 1l.7 0l.6 1l.7 1l.7 1l.7 1l.7 1l.6 0l.7 1l.7 2l.6 2l.7 2l.6 2l.7 1l.7 1l.6-1l.7-1l.6-1l.7-2l.6 0l.6-1l.7 0l.6 1l.7 0l.6 1l.6 2l.6 2l.7 2l.6 1l.6 1l.6 0l.7-1l.6-2l.6-1l.6-1l.6-1l.6 1l.6 0l.6 1l.6 2l.6 2l.6 1l.6 2l.6 1l.6 1l.6 1l.6-1l.6 0l.6 0l.6-1l.6 0l.5-1l.6-1l.6-1l.6 0l.5 1l.6 1l.6 2l.6 2l.5 2l.6 1l.6 1l.5 0l.6 1l.5 0l.6 1l.6 0l.5 1l.6 1l.5 0l.6-1l.5-1l.6 0l.5-1l.6 0l.5 1l.5 1l.6 2l.5 1l.6 0l.5 0l.5 0l.6-1l.5-1l.5 1l.5 0l.6 2l.5 1l.5 2l.5 2l.6 1l.5 1l.5 1l.5 0l.5 0l.5 0l.6 0l.5 0l.5 1l.5 1l.5 1l.5 1l.5 0l.5 0l.5 0l.5-1l.5-1l.5-1l.5-1l.5-1l.5 0l.5 1l.5 1l.5 2l.4 1l.5 1l.5 1l.5 0l.5 1l.5 0l.5 0l.4-1l.5 0l.5-1l.5-1l.4 0l.5 0l.5 1l.5 2l.4 2l.5 1l.5 2l.4 1l.5 1l.5 1l.4 1l.5 1l.5 1l.4 1l.5 0l.4 0l.5 0l.4-1l.5-1l.5-1l.4-1l.5-1l.4-1l1.4-2l2.2 3l.9-1l7.7 19l3.8-9l4.1 7l1.6-2l3.2 13l2.4-8l4.6 8l1.9-2l1.1 0l1.5-1l8.8 15l1.1-1l2.1 5l3.1-7l4.1 13l2-7l5.9 15l2.6-3l2.6 6l1.2-3l2.8 7l2.8-7l1.8 6l1.2-2l2.1 6l1.2-4l2.3 12l2-4l2.3 4l3.7-7l6.3 11l.6 0l2.4 7l1.3-1l.3 0l1.3-3l2.1 10l1.5-5l1.8 3l2.3-4l1.8 5l1-3l1.2 4l.7-1l2 11l1.7-3l1.4 2l.5 0l2.4 8l2.1-9l3.7 14l2.9-15l2.1 19l1.1-5l1.1 4l2.6-10l1.3 7l1.3-3l.7 0l.8-2l1.7 5l1.3-5l2.9 24l3.1-17l3 19l1.8-11l.6 2l1.5-11l1.8 25l1-8l1.1 5l2.3-10l.6 1l1.1-5l1.7 19l1.9-13l1.4 19l1.3-14l2.4 21l1.4-18l1.1 10l.9-6l1.2 6l1.6-17l2.9 20l1.2-4l1.2 7l.9-1l.1 0l1.4-14l1 15l.8-6l1.8 11l1-5l1.3 5l1.1-9l1.5 17l2.1-21l1.4 26l.6-3l.6 2l1-4l1.5 11l1-9l.7 6l.6-3l.8 3l.6-2l.8 2l.7-3l1.8 8l1.2-12l1.3 17l1.2-17l1.4 17l1.6-24l3 29l1-23l1 11l.1 0l1 14l1-21l.5 3l.6-5l2.5 22l.9-6l.8 6l.6-2l.6 9l1.4-25l.9 11l.7-8l1 24l.9-19l.9 17l.7-3l.2 0l3.1-48l1.2 35l.1 0l1.4 27l1-37l1.1 20l.9-4l.5 4l.7-17l.7 22l1.5-26l1.6 26l.8-29l1.8 39l1.8-25l.7 12l.1 0l1.1 34l1-39l.7 21l.7-21l.6 14l.4-4l.7 12l1.4-36l.8 34l.5-17l1.1 30l2.1-53l1.1 61l.9-27l.3 5l.6-23l.7 22l.5-9l.2 1l1-44l1 47l1-48l.8 33l.6-15l1.7 40l.9-40l1.5 67l1-63l.6 27l.8-36l.1 1l.4-5l.7 47l1.4-59l.8 62l.6-25l.7 18l.9-47l.6 28l.8-62l.9 81l.7-79l.5 14l.4-8l1.2 70l.6-67l.6 62l.6-65l.5 55l.6-44l.5 26l.9-38l.1 1l.7-22l.7 41l.7-18l.6 22l.3-4l.6 23l.5-9l1 51l.7-95l.7 55l.5-36l.7 62l.6-28l.3 3l.8-24l.4 20l.8-67l.7 87l.2-4l.5 14l1-61l.7 48l1.4-93l1.8 88l1.3-85l.2 1l.4-10l.4 14l.3-4l.6 51l.2-5l.7 48l.7-54l.7 55l.7-32l.7 53l1.1-86l.5 34l1.2-57l.5 34l.4-27l.6 64l.7-71l.9 102l1-93l.6 71l.7-46l.6 57l.5-58l.7 67l.6-49l.4 22l.4-21l.6 41l.4-14l.3 8l.8-64l.6 25l.3-7l.9 65l.3-14l.6 37l.7-110l1 101l.8-68l.5 20l.7-43l.2 0l.4-16l.6 106l.6-60l.1 0l.3-5l.4 6l.6-8l.4 18l.7-63l.5 39l.1-3l.5 45l.5-38l.4 25l.7-53l.5 48l.3-5l.6 21l.5-38l.3 10l.3-14l1.2 59l.8-66l.4 33l.5-65l.9 126l.6-94l.8 15l.3-6l.4 16l.7-49l.9 71l.4-16l1.1 43l.5-56l.3 15l.8-35l.5 57l.7-21l.4 44l.9-61l.6 54l.3-15l.1 3l.4-14l.4 45l.2-8l.3 10l.7-113l.3 15l.2-4l.5 40l.3-11l.5 63l.6-46l.4 16l.6-44l.2 4l.5-43l1 85l.4-29l.4 33l.4-19l.4 47l.6-64l.5 31l.3-16l.4 69l.4-56l.4 17l.6-109l.6 111l.5-55l.1 1l.3-38l1.3 133l.9-87l.4 52l.3-40l.3 23l.6-60l.3 50l.4-63l.3 6l.2-2l.5 72l.4-38l.4 79l.5-73l.3 8l.5-98l.8 140l.3-18l.2 2l.2-7l.3 46l.6-54l.8 76l.6-88l.4 50l.4-40l.5 51l.3-29l.4 30l1.6-113l.8 136l1.1-133l.4 89l.4-43l.5 34l.5-74l.5 69l.5-103l.6 147l.3-10l.1 2l.4-55l.5 124l1.1-196l1 143l.3-54l.6 66l.9-91l.2 11l.4-14l.4 17l.1-2l.4 33l.3-28l.4 81l.4-69l.3 3l.3-27l.2 31l.4-33l.3 36l.4-61l.1 8l.2-9l.4 45l.2-18l.4 67l.4-68l.3 51l.8-32l.1 1l.8-52l.1 2l.4-29l.8 107l.3-38l.4 60l.1-5l.2 5l.4-61l.3 20l.1-6l.2 8l.3-34l.4 52l.4-13l.5 93l.6-186l.5 118l.8-103l.2 5l.3-12l.7 89l.2-4l.3 18l.6-74l.5 26l.4-63l.5 133l.7-65l0 1l.2-7l.3 18l.5-68l.4 84l.1-2l.3 49l.3-54l.3 30l.5-82l.4 52l.8-117l.6 134l.3-23l.2 3l.4-41l.4 26l.3-39l.2 9l.1-2l.9 96l.6-62l.3 45l.5-76l.4 89l.3-69l.3 84l.3-65l.6 88l.5-104l.3 79l.6-74l.2 25l.1-3l.6 53l.5-62l.2 4l.1-2l.4 49l.6-99l.4 63l.1-4l.2 13l.3-41l.2 37l.3-45l.3 46l.3-69l.3 19l.1-3l.3 38l.3-10l.3 68l.3-100l.4 82l.4-42l.1 2l.3-79l.5 162l.7-149l.7 91l.3-65l.4 122l.2-24l.3 26l.5-53l.4 27l.2-31l.2 8l.6-56l.3 38l.2-41l.4 77l.4-99l.3 72l.3-40l.1 2l.1-1l.5 84l.5-70l0 1l.3-39l.7 85l.1 0l.1 1l.4-84l.7 122l.8-160l.4 91l.3-30l.2 8l.4-37l.3 51l.1 0l.2 27l.3-21l.1 3l.3-60l.5 93l.4-59l.1 3l.1-1l.3 22l.1-2l.5 88l.4-42l0 1l.3-15l.3 52l.4-82l.3 50l.3-76l.8 120l.5-99l.5 87l.7-122l.1 4l.1-7l.4 105l.4-100l.4 70l.2-15l.2 67l.6-61l.4 97l.3-129l.4 50l.3-50l.2 31l.2-32l.2 36l.2-6l.3 73l.3-54l.1 2l.2-17l.2 6l.1-10l.2 15l.2-51l.3 46l.2-7l.2 31l.5-46l.4 20l.2-31l.2 56l.2-8l.2 22l.2-71l.2 95l.2-14l.2 35l.3-51l.2 27l.4-101l.4 64l.1-3l.2 24l.1-3l.2 24l.4-81l.3 79l.2-56l.3 50l.3-64l.3 84l.3-27l0 3l.4-68l.3 40l.3-33l.3 69l.2-56l.2 14l.2-36l.2 43l.3-25l.2 9l.5-31l.3 44l.3-83l.3 147l.5-78l.2 49l.4-79l.2 16l0-2l.4 48l.1-1l.1 6l.3-34l.1 2l.3-56l.4 88l.2-64l.5 85l.2-35l.3 44l.3-73l.3 64l.4-52l.2 55l.5-94l.3 73l.1-12l.2 14l.3-60l.3 99l.3-68l.3 48l.4-106l.5 67l.5-55l.4 124l.2-76l.2 19l.3-39l.2 70l.5-62l.3 91l.4-149l.3 23l.1-15l.3 106l.2-42l.4 55l.3-59l.4 57l.2-48l.2 25l.1-4l.3 51l.2-8l.1 2l.5-100l.3 25l0-1l.2 46l.3-45l.3 42l.4-65l.3 89l.3-72l.4 83l.1-11l.2 9l.2-32l.2 53l.5-112l.3 91l.5-75l.2 65l.5-35l.2 25l.2-51l.2 58l.4-56l.4 41l.2-6l.2 29l.2-17l.2-17l.1 4l.1-3l.4 47l.2-41l.1 1l.2-19l.2 18l.3-43l.5 79l.4-60l.2 9l0-3l.4 27l.2-30l.4 73l.5-72l.2 19l.1 0l.3 63l.5-66l.3 58l0-2l.1 0l.3-77l.5 71l.4-78l.2 53l.3-22l.3 58l.3-60l.4 33l.2-22l.2 35l.2-26l.2 44l.5-100l.1 41l.3-32l.4 85l.3-47l.3 11l.2-12l.1 20l.2-25l.1 25l.1-8l.2 10l.3-30l.2 63l.5-43l.2 9l.1-12l.2 48l.2-34l.4 25l.2-20l.2 10l.2-37l.2 41l.2-17l.1 3l.2-7l.1 37l.5-47l.1 24l.2-46l.3 65l.1-44l.3 19l.2-30l.2 7l.1-31l.3 51l.1-9l.2 37l.3-78l.2 27l.1-1l.1 4l.3-42l.2 38l.1-21l.2 59l.3-45l.2 28l.2-16l.3 50l.4-33l.2 30l.1-7l.2 31l.4-75l.3 35l.2-41l.4 49l.3-66l.2 52l.2-57l.2 58l.2-10l.1 7l.1-5l.3 18l.2-5l.2 20l.2-41l.1 11l.1-6l.3 43l.2-41l.1 26l.2-20l.1 4l.2-24l.2 35l.1-23l.1 2l.2-17l.2 11l.1-7l.3 16l.1-11l.2 14l.2-24l.3 32l.4-40l.2 27l.1-5l.2 8l.2-7l.2 23l.2-30l.2 29l.1-18l.2 17l.3-34l.2 30l.2-23l.2 34l.3-26l.1 8l.2-18l.2 38l.2-19l.1 0l.1-19l.3 27l.1-17l.1 6l.1-4l.4 41l.2-36l.1 2l.1-8l.1 0l.2-17l.2 48l.2-23l.2 38l.5-50l.4 72l.3-76l.1 18l.3-46l.1 53l.2-18l.1 26l.2-17l.2 27l.4-46l.2 31l.1-13l.2 12l.2-19l.2 33l.2-18l.2 17l.2-23l.2 21l0-2l.2 11l.1-8l.1 7l.4-42l.1 19l.2-31l.2 24l.1-1l.2 10l.1-4l.2 30l.2-11l.1 8l.2-42l.2 43l.4-51l.2 54l.4-28l.2 31l.2-27l.1 13l.2-27l.2 27l.2-49l.2 43l.1-1l.1 2l.3 11l.1-3l.1 7l.3-45l.3 33l.2-24l.2 22l.1-13l.3 21l.3-34l.2 23l.3-51l.4 65l.6-49l.2 21l.2-23l.2 22l.2-6l.2 26l.3-32l.2 15l.1-5l.1 10l.1-7l.3 18l.2-28l.2 23l.1-8l.1 16l.2-17l.1 18l.1-14l.2 17l.2-27l.1 7l.1-23l.4 58l.4-34l.1 6l.1-5l.1 9l.1-1l.1 3l.1-5l.2 26l.3-42l.1 6l.2 10l.2-7l.1 9l.2-12l.2 13l.1-23l.4 18l.1-2l.2 36l.2-46l.1 3l.1-2l.2 18l.1-4l.1 3l.2-19l.3 45l.3-31l.1 9l.3-30l.2 47l.4-44l.1 3l0-2l.2 8l.2 31l.2-18l.2 34l.4-49l.3 21l.3-19l.1 18l.3-38l.1 3l.2 11l.1 0l.1 8l.1-6l.4 40l.2-42l.3 43l.2-39l.1 9l.2-18l.1 14l.1-2l.1 7" stroke="#0f0" stroke-width="4" stroke-dasharray="13 7.8"/>
<path d="M386.1 16l20.2 2l115.1 12l73.9 23l56.9 37l43.4 47l32.9 55l32.8 83l18.7 64l13.1 47l14.9 50l21.5 33l18.9-18l15.4-29l14.8-28l2-3l14.3-8l13.3 6l12.5 21l11.7 32l11 33l10.4 30l9.9 15l9.4-4l9-14l8.6-13l8.2-8l7.8 3l7.6 15l7.3 22l7 22l6.8 19l6.5 9l6.3-2l6.1-12l6-10l5.7-4l5.6 1l5.5 7l5.2 16l5.2 18l5 16l4.9 6l4.7 0l4.7-7l4.5-8l4.4-2l4.4 0l4.2 8l4.2 11l4 11l4 10l3.9 5l3.8-1l3.8-4l3.6-5l3.6-1l3.6 3l3.5 7l3.4 8l3.3 10l3.3 6l3.3 2l3.1 0l3.2-5l3.1-6l3-2l3 1l2.9 5l2.9 8l2.9 11l2.8 10l2.8 5l2.7 1l2.7-3l2.7-4l2.6-4l2.6-2l2.5 3l2.6 10l2.4 9l2.5 5l2.4-1l2.4-1l2.4-2l2.3-2l2.3-1l2.3 0l2.3 5l2.2 8l2.2 8l2.2 3l2.1 0l2.2-2l2.1-2l2.1-1l2-1l2.1 0l2 5l2 7l2 7l1.9 5l2 0l1.9-2l1.9-4l1.9-3l1.8 0l1.9 6l1.8 6l1.8 5l1.8 4l1.8 3l1.7 3l1.8 1l1.7-2l1.7-1l1.7-2l1.7 0l1.7 1l1.6 1l1.7 2l1.6 2l1.6 2l1.6 1l1.6 2l1.6 1l1.5 2l1.6 2l1.5 3l1.5 2l1.6 3l1.5 2l1.4 2l1.5 2l1.5 1l1.4 0l1.5 0l1.4-1l1.4-2l1.5-1l1.4-1l1.4 0l1.3 1l1.4 2l1.4 3l1.3 3l1.4 1l1.3 1l1.3-1l1.3-1l1.4-1l1.2-1l1.3 0l1.3 1l1.3 2l1.3 2l1.2 3l1.3 2l1.2 2l1.2 2l1.3 1l1.2 0l1.2 1l1.2 0l1.2 0l1.2 1l1.1 1l1.2 1l1.2 1l1.1 1l1.2 2l1.1 1l1.2 1l1.1 2l1.1 2l1.1 2l1.2 2l1.1 2l1.1 1l1.1 2l1 0l1.1 1l1.1 1l1.1 0l1-1l1.1-1l1 0l1.1-1l1 1l1.1 2l1 4l1 4l1 4l1 3l1 2l1 1l1-1l1-1l1-1l1-1l1-1l.9-1l1 0l1 0l.9 0l1 0l.9 1l1 1l.9 1l.9 2l1 2l.9 2l.9 3l.9 2l.9 2l1 1l.9 0l.9 0l.9-1l.8 0l.9 0l.9 0l.9 0l.9 0l.8 0l.9 1l.9 1l.8 1l.9 1l.8 1l.9 1l.8 1l.9 1l.8 1l.8 0l.9 1l.8 0l.8 0l.8 0l.8 0l.9-1l.8 0l.8-1l.8 0l.8 1l.8 1l.8 0l.7 1l.8 1l.8 1l.8 1l.8 2l.7 2l.8 3l.8 4l.7 3l.8 4l.8 3l.7 1l.8 1l.7-1l.8-3l.7-3l.7-3l.8-2l.7-2l.7-1l.8 0l.7 1l.7 1l.7 1l.8 2l.7 2l.7 1l.7 1l.7 2l.7 1l.7 1l.7 0l.7 0l.7-1l.7 0l.7 0l.7 0l.7 1l.6 0l.7 1l.7 1l.7 1l.7 1l.6 0l.7 2l.7 2l.6 2l.7 2l.6 2l.7 1l.7 0l.6-1l.7-1l.6-1l.7-1l.6-1l.6-1l.7 0l.6 0l.7 0l.6 1l.6 2l.6 2l.7 3l.6 2l.6 2l.6 1l.7 0l.6-1l.6-1l.6-1l.6-1l.6 0l.6 0l.6 0l.6 1l.6 1l.6 1l.6 2l.6 1l.6 1l.6 0l.6 0l.6 0l.6-1l.6 0l.6-2l.5-1l.6-1l.6-1l.6-1l.5 0l.6 1l.6 2l.6 2l.5 2l.6 2l.6 1l.5 1l.6 0l.5 1l.6 0l.6 1l.5 1l.6 1l.5 1l.6 0l.5 0l.6 1l.5 0l.6 0l.5 0l.5 0l.6 1l.5 0l.6 0l.5 0l.5 0l.6-1l.5 0l.5 1l.5 1l.6 1l.5 1l.5 1l.5 1l.6 1l.5 0l.5 0l.5 0l.5 0l.5 0l.6 0l.5 1l.5 1l.5 1l.5 1l.5 1l.5 1l.5 0l.5 0l.5 0l.5-1l.5 0l.5-1l.5-1l.5 0l.5 1l.5 0l.5 2l.4 1l.5 1l.5 1l.5 1l.5 0l.5 1l.5 0l.4 0l.5 0l.5 0l.5 0l.4 0l.5 1l.5 1l.5 1l.4 2l.5 1l.5 1l.4 1l.5 0l.5 1l.4 1l.5 1l.5 0l.4 1l.5 1l.4 0l.5 0l.4-1l.5-1l.5-1l.4-1l.5 0l.4-1l.9-1l2.2 2l1.8-1l6.9 17l3.4-10l4.5 12l2.4-6l3.2 12l2-4l1.5 2l.8-1l3.1 7l4.1-9l4.8 12l1.8-3l2.2 4l.7 0l4.5 7l1.4-1l3.4 11l2.4-9l5.5 17l3.3-5l1.9 4l1.5-3l2.8 6l2.8-9l4.5 20l1.8-5l2.3 6l2-7l1.8 4l1.1-3l1.7 6l1.7-5l1.9 5l1.4 0l4.3 11l2.1-2l.6 1l1.5-5l3.4 11l.8-1l1.5 9l1.5-8l1.8 10l2.5-23l3.2 25l1.7-11l1.2 2l.4 0l1.9 12l.5-1l1.2 3l2.3-6l3.9 15l.2 0l.5 0l1.6-5l2.9 17l2.2-23l1.7 27l1.5-16l1.3 9l.6-1l.9 2l2.7-31l2.3 37l2.3-17l.8 3l1.2-12l1.6 27l1-8l1 4l1.4-10l1.9 15l1.2-14l2.3 29l1.7-28l2.1 29l1.5-56l2.4 76l1.4-50l1.1 16l.7-6l2.2 31l1.4-34l1.3 17l1.4-27l.7 11l1-26l1.4 63l1.9-37l.5 5l.8-12l.9 23l1-34l1 36l2-64l1.8 35l.1-1l1.3 40l1.8-45l1.6 28l1.3-89l2.2 121l1.2-54l1.3 64l1.2-70l2 80l1.1-69l1 51l.9-39l.8 12l.8-28l.8 16l.6-4l.1 0l1.2-33l1.9 53l1.1-29l1.6 53l1.2-47l.5 13l1-35l2.4 68l1.5-53l1.1 60l1.1-29l.6 17l1.2-92l1.7 125l1-56l.5 4l1.2-56l1.4 74l1.2-31l.7 15l.6-26l1.1 72l1.1-107l.8 25l.4-2l.7 12l.5-13l2 51l2.3-49l.7 17l.1 0l.9 32l1-64l.6 11l.6-9l1 45l.9-41l1.1 60l.1 0l1 45l1.5-64l.2 0l.7-15l1 59l.9-76l1.4 55l1.4-50l.7 12l.1 0l1 13l1.5-54l1.6 88l.6-19l.4 14l.5-13l.7 29l.4-9l.7 14l.9-80l.7 60l1.5-45l1 68l1.2-67l1 26l.3-3l.8 24l.7-24l.6 32l1.4-74l.9 69l1-62l1.1 34l.7-11l.8 33l1.2-67l1.7 90l.8-66l.5 17l.7-59l1.3 81l.7-55l.7 46l.6-29l1.1 62l.6-30l.5 26l.6-35l.6 37l.7-87l.8 48l.5-11l.4 25l.6-27l.9 37l.5-8l.2 1l.9-35l.1 0l.7-39l.7 78l.3-5l.2 2l.2-2l.7 40l.2-1l.2 5l.6-17l.3 4l.6-30l.3 1l.5-16l.6 24l.8-82l1.5 105l.3-18l.3 4l.7-45l.4 7l.1 0l.8 64l.7-42l.4 4l.6-12l.9 21l.9-35l1.3 40l.9-25l.7 45l.6-42l.7 42l.6-17l.8 45l.8-85l.5 18l.5-17l.6 63l1.6-91l1.6 133l.2 0l.2 4l.7-85l1.6 88l1-76l.7 77l.8-60l1.1 55l.9-87l.5 20l.4-12l.7 27l.3-11l.6 38l.5-25l.9 39l.4-26l.4 20l.4-18l.5 28l.7-53l.3 26l.5-45l1.3 103l.5-66l.4 17l.6-33l1.1 33l.6-38l.4 41l.2-5l.3 14l.6-50l1.2 67l.7-26l.6 32l.5-43l.5 44l.6-51l.6 67l.3-11l.3 6l.4-15l.4 11l.6-47l.8 63l.7-78l.8 39l.6-32l.2 0l.3-10l.7 57l.6-37l1.1 36l.5-4l.3 5l.6-45l.3 9l.3-9l.5 36l.6-24l.8 53l.3-15l.7 31l.6-20l.5 11l.1-1l.3 3l1-50l.5 35l.4-20l.9 37l.7-42l.5 52l1-56l.4 32l.3-24l.3 8l.4-26l.6 52l.6-32l.5 27l.5-35l1 49l1-47l.4 6l.2-2l.3 10l.3-9l.3 10l.5-21l.8 59l.4-10l.3 2l.3-20l.3 4l.4-16l.6 19l.5-31l.9 39l.5-14l.3 12l.2-2l.4 19l.6-37l.3 5l.4-7l.6 8l.3-9l1.2 53l.3-3l.1 0l.5-35l.5 45l.5-40l.3 9l.4-16l.5 16l.3-29l.7 46l.4-18l.2 3l.4-29l.3 11l.2-2l.5 43l.5-20l.2 8l.4-19l.5 25l.3-8l.3 2l.4-10l.6 9l.5-30l1.3 31l.4-12l.7 15l.7-30l.3 6l.2-3l.5 15l.6 13l.4-16l.3 11l.2-5l.3 10l.3-6l.5-29l.9 52l.4-36l.4 8l.2-3l.3 3l.4-11l.4 15l.3-10l.3 15l.6-25l.4 22l.2-1l.3 12l.4-7l.1 0l.4-13l.2 4l.8-18l.5 19l.2-1l.6 15l.4-21l.4 25l.2-4l.1 0l.2 0l.2 2l.5-19l.6 26l.5-26l.2 6l.6-5l.5 17l.4-16l.5 20l.6-39l1 38l.3-8l.4 12l.1-1l.2 2l.7-30l.3 12l.3-16l.7 39l.6-17l.3 15l1-32l.6 35l.2-10l.3 21l.4-32l.4 12l.4-21l.3 13l.3-16l.4 18l.4-14l.5 18l.2-2l.2 8l.3-9l.1 1l.6-14l.4 15l.1-1l.4 22l.4-18l.1 0l.3-5l.2 3l.1-1l.2 3l.1 0l.3 2l.5-8l.7 23l.6-30l.3 4l.4-10l.6 31l.4-9l.2 1l.4-7l.5 5l.1-1l.4 11l.4-17l.2 9l.3-10l.2 8l.2-2l.3 8l.3-14l.3 10l.2-5l.2 4l.4-6l.1 0l.2 1l.1-2l.4 19l.5-25l.2 9l.1-1l.4 13l.4-10l.6 23l.4-26l.3 12l.2-6l.2 6l.2-5l.4 12l.2-2l.4 3l.3-18l.3 16l.4-11l.3 21l.3-22l.4-9l.3 27l.2-8l.4 8l.5-20l.4 6l.1-1l.7 23l.5-25l.3-18l.4 28l.6-18l.3 16l.1 0l.4 9l.3-12l.1 1l.3-11l.2 12l.1-1l.4 21l.7-40l.5 24l.3-9l.3 10l.1-3l.2 7l.2-6l.2 3l.5-12l.8 17l.1-2l.4 12l.4-18l.3 3l.1-2l.2 3l.1-1l.2 3l.4-15l.2 7l.3-8l.2 6l.2-6l.2 3l.1 0l.2 5l.2-4l.2 9l.2-7l.4 14l.3-18l.3 15l.1-1l.2 1l.3-5l.5 18l.5-26l.7 18l.4-23l.3 16l.3-7l.7 12l.2-6l.3 7l.2-2l.6 7l.1-2l.2 1l.2-8l.2 3l.3-19l.3 19l.7-14l.4 14l.3-12l.3 9l.1-1l.2 12l.5-15l.3 9l.3-2l.1 1l.4-7l0 1l.2-1l.4 6l.3-10l.5 24l.3-18l.2 4l.3-10l.4 16l.2-6l.2 2l.2-8l.4 21l.3-17l.2 11l.3-8l.1 4l.4-11l.2 4l.2-1l.2-3l.2 9l.4-12l1 21l.2-9l.2 3l.4-6l.2 8l.3-10l.3 18l.3-12l.1 0l.3-12l.4 12l.3-8l.2 9l.2-7l.3 13l.6-12l.2 3l.1-2l.2 3l.1 0l.3 15l.5-20l.7 14l.1-2l.3 10l.3-15l.2 1l.1-1l.1 2l.3-8l.3 8l.4-9l.1 0l.2-4l.4 11l.1-3l.4 12l.3-10l.2 3l.2-2l.5 13l.2-10l.1 0l.6-12l.4 15l.1-1l.1 1l.2-3l.4 7l.2-10l.4 5l.3-4l.5 14l.5-14l.1 0l.2 2l.4-7l.4 13l.4-10l.2 17l.2-14l.2 4l.2-3l.2 6l.4-9l.3 22l.5-16l.2 5l.3-11l.5 21l.4-19l.2 8l.3-3l.2 7l.4-11l.3 7l.2-2l.3 5l.1-5l.2 3l.1-4l.3 5l.3 4l.2-4l.1 4l.5-11l.3 2l.1-1l.2 2l.1-1l.2 11l.4-7l.5 8l.3-14l.4 7l.2-8l.3 8l.1-2l.2 3l.4-9l.5 16l.5-16l.5 9l.1-1l.1 0l.3-2l.2 6l.3-8l.4 9l.2-5l.2 8l.3-12l.3 9l.2-1l.5-11l.2 14l.6-11l.2 1l.2 7l.2-4l.2 5l.2-4l.2 1l.1-1l.2 5l.3-11l.4 11l.2-8l.2 9l.3-8l.1 2l.2-3l.2 3l.1-1l.2 8l.3-6l.3 2l.1 0l.2 5l.2-8l.3 9l.2-8l.2 3l.3-10l.3 13l.1-1l.1 2l.4-12l.2 7l.2-5l.2 10l.2-6l.1 6l.2-2l.1 0l.3-8l.2 9l.5-13l.7 17l.2-4l.4 5l.4-12l.4 8l.3-9l.3 10l.3-13l.5 16l.2-10l.2 7l.3-8l.1 4l.4-8l.3 9l.1-1l.1 0l.2 4l.2-5l.4 12l.3-13l.2 3l.1-4l.1 4l.2-2l.2 5l.1-2l.1 2l.2-2l.1 2l.1-6l.2 2l0-1l.2 1l.2 3l.1 0l.2-3l.2 6l.2-4l0 1l.2-8l.3 9l.1-2l.2 7l.4-15l.3 11l.2-3l.2 1l.3-4l.2 7l.2-6l.3 6l.1-2l.2 5l.3-7l.2 7l.2-7l.2 3l.3-9l.4 14l.4-16l.6 16l.4-7l.2 1l.1-3l.2 3l.1-2l.2 8l.2-4l.1 1l.2-2l.2 3l.2-5l.1 5l.2-4l.1 1l.2-2l.2 7l.2-4l.1 4l.2-6l.1 0l.1-5l.4 16l.2-9l.3 10l.5-13l.4 10l.3-7l.2 2l.1 0l.1 1l.3-7l.4 8l.3-7l.4 5l.1-4l.2 1l.1 0l.1 0l.3 5l.3-5l.2 4l.1-1l.2 3l.3-11l.4 10l.2-6l.2 9l.2-4l.2 1l.3-1l.3 2l.2-11l.4 13l.3-8l.2 3l.4-9l.5 13l.2-7l.3 4l.4-4l.1 0l.1-1l.4 4l.1-1l.2 3l.2-3l.1 1l.1-1l.1 2l.2-2l.2 5l.2-7l.2 8l.2-4l.1 3l.1-2l.2 6l.3-8l.1 1l.2-4l.1 1l.1 0l.3 6l.3-5l.2 7l.2-5l.3 2l.2-4l.2 8l.3-7l.3 5l.3-2l.1 1l.2-2l.1 1l.3-5l.2 7l.1-5l.1 0l.1 0l.1 3l.1-2l.1 2l.3-3l.2 2l.2 5l.2-3l.2 2l.2-4l.3 5l.2-3l.2 1l.1-1l.2 0l.2-1l.1 2l.2-1l.2 2l.1-1l0 1l.2-5l.2 1l.2-3l.3 7l.3-5l.2 5l.4-5l.2 5l.1 1l.1-2l.1 1l.2-5l.2 9l.2-3l.1 1l.1 0l.1 0l.2-8l.1 1" stroke="#00f" stroke-width="3" stroke-dasharray="13 7.8"/>
<path d="M1720 1076.3l35 27.2l38 31l21 17l26 18.3" stroke="#0ff" stroke-width="4"/>
<path d="M1840 1169.8l11 7.7l46 37l22 16l79 51l42 23l37 16l23 8l23 6l.3 0" stroke="#0ff" stroke-width="7"/>
<path d="M2123.8 1333V1446" stroke="#0ff" stroke-width="4"/>
<path d="M386.1 16l20.2 2l115.1 12l73.9 23l56.9 37l43.4 47l32.9 55l32.8 83l18.7 64l13.1 47l14.9 50l21.5 33l18.9-18l15.4-29l14.8-28l2-3l14.3-8l13.3 6l12.5 21l11.7 32l11 33l10.4 30l9.9 15l9.4-4l9-14l8.6-13l8.2-8l7.8 3l7.6 15l7.3 22l7 22l6.8 19l6.5 9l6.3-2l6.1-12l6-10l5.7-4l5.6 1l5.5 7l5.2 16l5.2 18l5 16l4.9 6l4.7 0l4.7-7l4.5-8l4.4-2l4.4 0l4.2 8l4.2 11l4 11l4 10l3.9 5l3.8-1l3.8-4l3.6-5l3.6-1l3.6 3l3.5 7l3.4 8l3.3 10l3.3 6l3.3 2l3.1 0l3.2-5l3.1-6l3-2l3 1l2.9 5l2.9 8l2.9 11l2.8 10l2.8 5l2.7 1l2.7-3l2.7-4l2.6-4l2.6-2l2.5 3l2.6 10l2.4 9l2.5 5l2.4-1l2.4-1l2.4-2l2.3-2l2.3-1l2.3 0l2.3 5l2.2 8l2.2 8l2.2 3l2.1 0l2.2-2l2.1-2l2.1-1l2-1l2.1 0l2 5l2 7l2 7l1.9 5l2 0l1.9-2l1.9-4l1.9-3l1.8 0l1.9 5l1.8 5l1.8 4l1.8 4l1.8 3l1.7 4l1.8 2l1.7-1l1.7-1l1.7-2l1.7-2l1.7-2l1.6 0l1.7 0l1.6 1l1.6 1l1.6 2l1.6 3l1.6 2l1.5 3l1.6 3l1.5 3l1.5 2l1.6 2l1.5 0l1.4-3l1.5-4l1.5-6l1.4-6l1.5-6l1.4-2l1.4 0l1.5 2l1.4 4l1.4 5l1.3 6l1.4 6l1.4 6l1.3 7l1.4 5l1.3 4l1.3 3l1.3 2l1.4 0l1.2 0l1.3-1l1.3-1l1.3-2l1.3-2l1.2-2l1.3-4l1.2-4l1.2-5l1.3-4l1.2-3l1.2-1l1.2 1l1.2 4l1.2 5l1.1 6l1.2 6l1.2 6l1.1 5l1.2 5l1.1 3l1.2 1l1.1 0l1.1 0l1.1-1l1.2 0l1.1 1l1.1 0l1.1 1l1 1l1.1 1l1.1 0l1.1 0l1 0l1.1-1l1 0l1.1 1l1 4l1.1 5l1 8l1 8l1 7l1 5l1 2l1 0l1-2l1-2l1-3l1-1l1 0l.9-1l1 1l1 0l.9 2l1 2l.9 2l1 2l.9 2l.9 2l1 1l.9 3l.9 3l.9 4l.9 3l1 1l.9-3l.9-7l.9-8l.8-10l.9-8l.9-5l.9-2l.9 1l.8 5l.9 5l.9 6l.8 5l.9 3l.8 1l.9 0l.8-1l.9-1l.8-1l.8-2l.9-1l.8-1l.8-2l.8-1l.8-2l.9-3l.8-3l.8-4l.8-2l.8-2l.8 0l.8 2l.7 3l.8 6l.8 7l.8 8l.8 9l.7 8l.8 6l.8 4l.7 1l.8 0l.8-1l.7 0l.8 0l.7 0l.8 2l.7 2l.7 1l.8 0l.7-2l.7-3l.8-4l.7-3l.7-1l.7 1l.8 3l.7 4l.7 5l.7 4l.7 4l.7 2l.7 1l.7 0l.7 0l.7 0l.7 1l.7-1l.7-1l.7-2l.6-4l.7-4l.7-4l.7-3l.7-2l.6-2l.7-1l.7-1l.6 0l.7 0l.6 3l.7 3l.7 5l.6 4l.7 2l.6 0l.7-1l.6-2l.6-2l.7 1l.6 3l.7 6l.6 8l.6 8l.6 6l.7 5l.6 1l.6-1l.6-3l.7-5l.6-5l.6-6l.6-4l.6-3l.6-1l.6 0l.6 1l.6 3l.6 4l.6 4l.6 5l.6 5l.6 2l.6-1l.6-5l.6-8l.6-10l.6-10l.6-9l.5-7l.6-4l.6-2l.6 1l.5 3l.6 5l.6 4l.6 4l.5 3l.6 2l.6 0l.5 0l.6 1l.5 1l.6 2l.6 4l.5 4l.6 4l.5 4l.6 3l.5 4l.6 3l.5 2l.6 2l.5 1l.5 1l.6 1l.5 3l.6 4l.5 3l.5 3l.6 1l.5-1l.5-2l.5-3l.6-3l.5-2l.5-1l.5 1l.6 2l.5 3l.5 2l.5 1l.5 1l.5 0l.6 1l.5 1l.5 0l.5-1l.5-1l.5-2l.5-3l.5-4l.5-3l.5-1l.5 1l.5 3l.5 4l.5 4l.5 2l.5 0l.5-2l.5-4l.4-4l.5-3l.5-1l.5 1l.5 2l.5 2l.5 1l.4 0l.5-2l.5-3l.5-2l.4 1l.5 3l.5 6l.5 7l.4 6l.5 3l.5-1l.4-4l.5-4l.5-3l.4 0l.5 1l.5 1l.4-1l.5-2l.4-5l.5-5l.4-4l.5-2l.5 1l.4 3l.5 5l.4 4l2.7 12l2.2-8l2.6 30l2.2-20l2.1 4l3.4-11l4.5 38l2.8-31l2.8 12l2.8-13l3.4 41l2.7-32l4.8 38l4-26l2.2 15l1.8-6l1.7 15l2.5-11l.7 1l1-2l3 12l1.7-4l3 18l2.3-19l2.6 16l.9-1l2.6 10l3.1-11l2.8 10l2.7-6l2.7 29l2.1-9l1.7 5l2-13l1.8 10l2.2-13l1.7 7l1.1-2l3.4 13l1.3-2l1.1 1l1.1-1l1.3 3l2.9-7l1.9 11l1.3-3l1.2 3l.8-1l1.5 6l.8 0l1.3 3l1.2-2l1 1l1.2-1l2.5 10l1.4-3l1.2 2l1-1l2.1 10l2.2-4l.7 1l.7-1l2 8l1-2l1.3 5l1.8-7l1.1 4l1.4-4l1.1 3l1.3-6l2.6 9l1.1-3l4.9 12l1.2-5l1.7 10l1.8-7l2.9 5l1.2-4l1.2 5l1-1l.6 0l.8 0l1.9 7l.8-1l.8 1l1.1-2l3.1 5l.9-1l.8 1l.7-1l1.1 4l.8-2l1.2 5l1.1-3l2.6 6l1.1-2l1.4 4l1.6-4l1 3l1.4-3l2.6 9l1.4-5l2.5 6l1.2-2l1.5 4l1.2-4l2.9 8l1.1-1l.7 0l.8-1l4.7 7l.7-1l1.2 4l2.2-4l1.5 7l1.1-3l1 1l.5 0l4 9l.8-2l1.1 2l.4 0l.9 1l1.7-2l1.6 4l.5 0l1.7 4l.6-1l.8 2l1-2l1.5 2l1.1-2l1 2l.5 0l2.3 7l.7-2l.8 3l1.2-4l1 4l.7-1l.8 1l1.4-2l1 4l.4-1l1.2 4l1.6-2l1.2 2l.8-2l1.8 5l1.2-1l.8 2l.6-2l1 3l.7-1l.7 2l.3 0l1.5 3l.9-2l2.7 6l.9-3l.7 2l.5 0l1.2 2l.5-1l.4 0l.4 0l3.2 3l.3 0l.6 1l.3 0l1.1 1l.9-2l1.6 5l.7-1l1.5 2l.4 0l.1 0l.4-1l1.2 2l.2 0l.8 1l1-2l1.2 3l1.1-2l1.6 4l.5-1l.7 3l.5-1l.6 2l.4-1l.5 1l.6-2l1.3 3l.5-1l.5 0l.1 0l.7 2l.5-1l.9 2l.6-1l.4 1l.6-1l1.6 3l.6-1l.3 0l.1 0l.7 1l.7-1l1.1 3l.3 0l1.6 2l.5-1l1.5 4l.5-1l.1 0l.6-1l1 2l1.3-2l1.5 4l.7-1l1.3 4l.4-1l.7 1l.4-1l1.5 4l.9-2l.9 2l.3 0l1 1l.3-1l1.1 3l.8-4l1 5l.3-1l1 2l.5 0l.1 0l.1 0l.7 1l.4 0l.7 2l1.1-2l.6 1l.5 0l1.1 3l.6-1l.4 1l.5-1l1.5 3l.5-1l.6 2l.5-1l.7 1l.3 0l.5 1l.6-1l1.6 3l.4-1l.6 2l.4-1l.5 2l.4-1l.4 1l.3 0l.6 1l.6-2l.7 2l.5 0l.2 0l.4 0l.7 1l.4-1l1.2 4l.6-2l.5 1l.2 0l.6 3l.4-1l.6 1l.2-1l.4 1l.4 0l.5 1l.3 0l.3 0l.2 0l.9 1l.7-2l1.2 3l.5 0l.5 1l.2 0l1.5 2l.2 0l.6 0l.5-1l.6 3l.5-1l.4 1l.3-1l.4 1l.1 0l.3 0l.3 0l1.3 2l.6-2l1.9 4l.7-1l.5 1l.2 0l.5 1l.4-1l.3 1l.5-1l.5 3l.2-1l.5 2l.8-1l.5 2l.6-2l.2 1l.8-1l.9 3l.7-2l.5 1l.6 2l.5-3l.9 4l.3-1l.4 1l.1 0l.7 1l.2-1l.1 0l.4-1l1.2 4l.3-2l.2 0l.3 0l.3 1l.5-1l.7 2l.8-1l1 2l.5-1l.5 2l.2 0l.5 2l.3 0l.2 0l.7-1l.4 1l.4-1l.3 1l.4-2l.3 0l.5 1l.3-1l.5 3l.5-1l.6 1l.3-1l.6 3l.5-1l.5 2l.4-1l.5 1l.5-2l.4 2l.2-1l.4 2l.2-1l.3 1l.4-1l.3 1l.3-1l.3 1l.3-1l.4 2l.2 0l.3 0l.3 0l.3 1l.2-1l.5 2l.9-1l.1 0l.2-1l.5 3l.1 0l.5 1l.4-3l.9 3l.4-1l.7 2l.1 0l.3 1l.3-2l.3 1l.3-1l.4 1l.3 0l.6 1l.3-2l.7 3l.4-2l.4 3l.4-2l.5 2l.3-1l.7 3l.5-2l.3 1l.4-1l.6 2l.4-1l.2 1l.3-1l.2 1l.5-2l.8 4l.3-1l.3 0l.2 0l.5 2l.3-1l.6 2l.4-3l.4 2l.3-1l.8 2l.7-2l.8 2l.2 0l.2 1l.4-1l.5 1l.3 0l.8 2l.4-1l.4 1l.4-2l.3 3l.5-1l.5 2l.7-3l.5 2l.2-1l.3 2l.1 0l.4 2l1.2-3l.4 1l.2 0l.2 0l.1 0l.3 3l.2-1l.3 1l.2-1l.3 1l.5-1l.3 0l.1 0l.3 1l.2 0l.5 1l.2 0l.3 0l.2 0l.3 1l.3-2l.2 1l.3-1l.4 2l.4-2l.3 2l.4-1l.2 0l.3-1l.6 3l.2 0l.6 2l.3-1l.2 2l.4-2l.4 1l.2 0l.3 2l.4-2l.3 1l.2-2l.4 3l.5-2l.3 2l.3-2l.4 2l.3-1l.3 2l.3-1l.9 3l.3-2l.7 2l.3-1l.3 0l.3 0l.6 2l.6-4l.7 4l.3-1l.6 2l.1-1l.3 1l.2-1l.2 0l.3-1l.3 2l.5-3l.6 4l.5-2l.2 1l.2-1l.2 1l.1 0l.3 2l.3-2l.3 2l.3-2l.6 3l.1 0l.2 1l.3-2l.1 0l.3 0l.1 0l.2 0l.3 1l.2 0l.4 0l.2-1l.7 2l.2-1l.2 1l.2 0l.3 1l.4-1l.5 2l.2-2l.3 2l.3-2l.2 1l.3-1l.4 2l.2-1l.3 2l.2-2l.3 1l.4 3l.3-2l.2 1l.2-1l.2 1l.3-3l.3 2l.3-1l.6 3l.5-2l.5 2l.3-2l.4 3l.3-2l.3 0l.1 0l.3 2l.2 0l.1 0l.2-1l.3 1l.3-1l.3 2l.2-1l.4 1l.3-1l.2 1l.2-1l.3 2l.2-1l.1 0l.3-1l.1 0l.2-1l.2 1l.3-1l.5 3l.2 0l.3 1l.2-1l.2 1l.1 0l.3 0l.3-1l.3 1l.3-1l.2 2l.2-1l.4 1l.3-1l.1 0l.3-2l.4 3l.1 0l.3 1l.2-1l.4 2l.1 0l.1 0l.5-2l.1 0l.2 0l.4 3l.4-3l.2 2l.3-1l.3 1l.5-2l.5 3l.1-1l.3 2l.6-3l.3 2l.2 0l.2 1l.2 0l.2 0l.1 0l.5 2l.3-2l.2 0l.1 0l.2 1l.4-2l.3 1l.2 0l.3-1l.8 3l.2-1l.3 2l.6-2l.4 1l.1 0l.3 2l.3-2l.3 1l.1-1l.3 2l.3-1l.1 0l.3-1l.3 2l.4-1l.3 1l.2-1l.5 2l.4-2l.4 2l.2-1l.2 1l.2-2l.6 3l.1-1l.2 1l.9-3l.4 4l.4-2l.5 2l.3-2l.2 2l.3-1l.1 1l.4-2l.2 1l.2-1l.3 1l.2 1l.2-1l.1 1l.5-1l.3 2l.5-1l.2 1l.2-1l.4 1l.3-1l.7 3l.3-3l.3 3l.3-2l.3 2l.2-2l.2 1l.1 0l.1 0l.2 0l.2 0l.2 0l.1 1l.2-1l.1 1l.1 0l.2 0l.3-1l.1 0l.2 0l.3 2l.1-1l.2 1l.2-1l.2 1l.2-1l.5 2l.3-2l.4 2l.3-1l.4 2l.6-3l.4 3l.2-1l.3 1l.2-1l.2 1l.3-1l.5 3l.3-3l.4 3l.3-4l.4 4l.1-1l.4 1l.3-2l.2 2l.2-1l.1 0l.2-1l.3 3l.2-3l.1 2l.2-2l.3 3l.4-2l.1 0l.1-1l.3 3l.2-3l.1 1l.1 0l.3 1l.1 0l.1 0l.2 0l.1 1l.2-1l.2 2l.2-2l.3 1l.1-2l.2 2l.2-1l.4 2l.3-1l.3 1l.2-2l.4 2l.2-1l.2 1l.1-1l.1 1l.2-1l.2 1l.1-1l.4 1l.1 0l.3 1l.1 0l.4 1l.2 0l.1 0l.1-2l.2 2l.3-1l.3 2l.2-1l.1 0l.1-1l.2 1l.2-2l.1 0l.1 0l.3 3l.3-1l.2 1l.4-3l.2 2l.2-1l.3 2l.2-1l.2 1l.2-1l.4 3l.5-2l.1 0l.3 0l.3 1l.2-1l.2 1l.2-2l.5 3l.3-2l.2 2l.2-1l.2 0l.2-1l.2 1l.2 0l.3-2l.5 3l.3-1l.2 2l.2-2l.2 1l.2-1l.1 0l.1 0l.2 1l.1 0l.2 1l.1-1l.2 2l.2-2l.2 1l.2-2l.2 2l.2-1l.3 2l.1-2l.2 2l.2-1l.3 1l.2-2l.1 0l.1 0l.4 3l.3-3l.3 2l.1-1l.4 2l.3-1l.2 1l.1-1l.2 1l.2-3l.4 3l.3-2l.2 1l.1 0l.1 0l.1 0l.2 2l.2-1l.3 0l.1 0l.1 0l.2-1l.2 1l.1-1l.3 2l.3-2l.4 3l.2-1l.1 0l.2-1l.2 1l.2-1l.2 1l.2-1l.2 1l.1-1l.1 0l.2 0l.1 0l.1 0l.2 1l.1-1l.3 2l.1-1l.2 1l.3-1l.1 2l.4-2l.1 1l.2-1l.2 1l.3-1l.3 2l.2-1l.1 0l.4-1l.2 2l.3-1l.1 0l.1 0l.1 1l.1-1l.2 2l.2-2l.3 2l.2-2l.2 1l.1 0l.2 1l.3-2l.3 2l.2-2l.3 2l.2-1l.1 1l.1-1l.1 0l.1 0l.2 2l.3-2l.2 2l.2-2l.1 1l.3-1l.1 0l.2 0l.2 0l.2 1l.2 1l.4-1l.2 2l.4-3l.2 2l.2-2l.2 1l.1 0l.3 2l.1-1l0 1l.2-2l.3 3l.2-3l.1 1l.2-1l.2 3l.3-3l.2 3l.2-3l.3 1l.1 0l.2 2l.2-2l.1 1l.2-2l.2 2l.1-1l.2 2l.5-3l.1 1l.1 0l.4 2l.1-1l.2 1l.2-2l.1 1l.2-2l.2 2l.1-1l.4 3l.2-1l.2 1l.3-4l.2 2l.2 0l.2 1l.2-2l.1 3l.3-2l.3 1l.1 0l.1 1l.1-1l.2 1l.3-2l.2 1l.2-1l.4 2l.2-3l.3 3l.2-1l.1 1l.1-1l.1 1l.1-1l.2 0l.1-1l.2 2l.1-1l.3 1l.1-1l.2 2l.1-1l.2 1l.2-1l.1 0l.1 0l.2 1l.2-2l.2 3l.3-2l.1 1l.1 0l.1 0l.3-1l.1 1l.1 0l.1 0l.3-1l.1 1l.3-3l.5 5l.1-2l.2 0l.2-2l.2 3l.1-2l.2 2l.2-2l.2 1l.3-1l.1 1l.5 135" stroke="#0ff" stroke-width="4" stroke-dasharray="13 7.8"/>
<path d="M1880 1205.8l17 13.7l22 16l11 7.1" stroke="#f0f" stroke-width="5"/>
<path d="M1930 1242.6l68 43.9l42 23l37 16l23 8l23 6l.3 0" stroke="#f0f" stroke-width="7"/>
<path d="M386.1 16l20.2 2l115.1 12l73.9 23l56.9 37l43.4 47l32.9 55l32.8 83l18.7 64l13.1 47l14.9 50l21.5 33l18.9-18l15.4-29l14.8-28l2-3l14.3-8l13.3 6l12.5 21l11.7 32l11 33l10.4 30l9.9 15l9.4-4l9-14l8.6-13l8.2-8l7.8 3l7.6 15l7.3 22l7 22l6.8 19l6.5 9l6.3-2l6.1-12l6-10l5.7-4l5.6 1l5.5 7l5.2 16l5.2 18l5 16l4.9 6l4.7 0l4.7-7l4.5-8l4.4-2l4.4 0l4.2 8l4.2 11l4 11l4 10l3.9 5l3.8-1l3.8-4l3.6-5l3.6-1l3.6 3l3.5 7l3.4 8l3.3 10l3.3 6l3.3 2l3.1 0l3.2-5l3.1-6l3-2l3 1l2.9 5l2.9 8l2.9 11l2.8 10l2.8 5l2.7 1l2.7-3l2.7-4l2.6-4l2.6-2l2.5 3l2.6 10l2.4 9l2.5 5l2.4-1l2.4-1l2.4-2l2.3-2l2.3-1l2.3 0l2.3 5l2.2 8l2.2 8l2.2 3l2.1 0l2.2-2l2.1-2l2.1-1l2-1l2.1 0l2 5l2 7l2 7l1.9 5l2 0l1.9-2l1.9-4l1.9-3l1.8 0l1.9 6l1.8 5l1.8 5l1.8 4l1.8 4l1.7 3l1.8 1l1.7-1l1.7-2l1.7-1l1.7 0l1.7 0l1.6 1l1.7 1l1.6 2l1.6 2l1.6 2l1.6 2l1.6 2l1.5 2l1.6 2l1.5 3l1.5 3l1.6 3l1.5 2l1.4 2l1.5 2l1.5 0l1.4 0l1.5-1l1.4-2l1.4-2l1.5-2l1.4-1l1.4 0l1.3 1l1.4 2l1.4 3l1.3 3l1.4 1l1.3 1l1.3 0l1.3-2l1.4-1l1.2 0l1.3 0l1.3 1l1.3 2l1.3 3l1.2 3l1.3 3l1.2 3l1.2 2l1.3 1l1.2 0l1.2 0l1.2-1l1.2-1l1.2 0l1.1 0l1.2 2l1.2 1l1.1 2l1.2 1l1.1 2l1.2 2l1.1 2l1.1 2l1.1 3l1.2 3l1.1 2l1.1 2l1.1 1l1 1l1.1 0l1.1-1l1.1 0l1-1l1.1-1l1-1l1.1-1l1 1l1.1 2l1 4l1 4l1 4l1 4l1 2l1 1l1-1l1-1l1-1l1-1l1-1l.9 0l1-1l1 0l.9-1l1 0l.9 1l1 1l.9 2l.9 2l1 3l.9 3l.9 2l.9 3l.9 1l1 1l.9 0l.9-1l.9-1l.8 0l.9-1l.9-1l.9 0l.9-1l.8 0l.9 0l.9 1l.8 1l.9 1l.8 1l.9 2l.8 1l.9 2l.8 1l.8 1l.9 1l.8 1l.8 0l.8 0l.8-1l.9-1l.8-1l.8 0l.8 0l.8 1l.8 1l.8 2l.7 1l.8 1l.8 1l.8 1l.8 2l.7 2l.8 3l.8 2l.7 3l.8 3l.8 3l.7 2l.8 0l.7-1l.8-2l.7-3l.7-2l.8-2l.7-1l.7 0l.8 1l.7 1l.7 1l.7 0l.8 1l.7 1l.7 1l.7 1l.7 1l.7 1l.7 0l.7 0l.7-1l.7 0l.7 0l.7 0l.7 1l.7 2l.6 1l.7 2l.7 1l.7 1l.7 1l.6 0l.7 2l.7 1l.6 3l.7 3l.6 2l.7 2l.7 1l.6-1l.7-1l.6-2l.7-2l.6-1l.6 0l.7 0l.6 1l.7 2l.6 2l.6 2l.6 3l.7 2l.6 1l.6 1l.6 0l.7-1l.6-2l.6-1l.6-1l.6-1l.6 1l.6 0l.6 1l.6 1l.6 1l.6 0l.6 0l.6 0l.6-1l.6-1l.6-1l.6-2l.6-1l.6-1l.6-1l.5-1l.6-2l.6-2l.6-1l.5-1l.6 0l.6 2l.6 2l.5 2l.6 3l.6 2l.5 2l.6 2l.5 2l.6 1l.6 2l.5 0l.6 1l.5 0l.6 0l.5 0l.6 1l.5 0l.6 1l.5 2l.5 2l.6 2l.5 1l.6 1l.5 0l.5-1l.6 0l.5-1l.5 0l.5 0l.6 1l.5 0l.5 1l.5 0l.6 0l.5 0l.5 1l.5 2l.5 2l.5 2l.6 2l.5 2l.5 2l.5 1l.5 0l.5-1l.5-1l.5-2l.5-1l.5-2l.5-2l.5-2l.5-2l.5-3l.5-4l.5-2l.5-3l.5 0l.4 1l.5 2l.5 3l.5 4l.5 3l.5 3l.5 1l.4 1l.5 0l.5 0l.5 0l.4 0l.5 2l.5 2l.5 4l.4 4l.5 3l.5 1l.4-1l.5-2l.5-4l.4-4l.5-4l.5-3l.4-3l.5-2l.4-1l.5 0l.4 2l.5 4l.5 6l.4 7l.5 7l.4 6l.5 2l4.8-30l2.7 19l3-17l1.7 4l2.1-12l2 19l4.9-33l3.6 41l1.6-8l6.2 30l3-33l2.9 20l1.9-8l1.1 2l2.1-18l3.2 44l2.5-39l5.5 50l3.6-23l2 19l2-29l2.6 24l1.6-16l1.9 32l1.2-5l.7 1l1.2-5l1.2 6l3.1-25l3 36l4.1-30l1.5 8l1.1-5l3.5 31l3.9-52l2.5 38l1.3-13l1.4 8l.3-1l1.8 18l1.6-42l2.7 67l2.3-35l2.6 21l1.5-21l1.8 38l2.4-51l2.5 51l2.4-28l1 4l1.4-20l2.4 65l2.8-40l1.1 17l1.9-35l3.6 66l.9-10l.9 6l.6-1l1.4 14l1.7-55l1.5 29l.9-12l1.1 17l1.2-45l1.7 36l2.3-45l2.3 84l3.1-77l2.4 51l1.2-26l1 26l1.5-73l3.9 86l.2 0l.8 6l.9-10l.6 1l1.5-45l1.1 40l1.3-60l1.7 66l1.5-51l2.7 104l2.7-52l1.4 18l2.1-58l.9 18l1-40l1.9 45l.4 0l1.1 17l1.1-18l.6 18l1.2-48l1 21l1.2-14l1.1 47l1-37l2.1 80l2.6-66l3.9 56l1.1-24l1.1 27l1.1-35l.5 3l.7-7l.9 13l1-17l1.3 55l.8-31l.7 24l1.2-30l1.6 46l1.2-57l1.3 21l1.7-25l1.5 68l1-33l.7 14l.8-9l.3 0l.7-7l1.1 36l1.5-44l1.3 60l1.4-48l.6 16l1-26l1.3 48l1.2-41l.8 9l1.4-12l1.3 28l1.8-10l1.9 32l.8-14l.3 0l1-25l1.1 28l1.2-18l1 13l.8-12l.9 9l.4-1l.2 0l.9-7l1.1 31l1.3-30l1 26l2.4-19l1 20l.2-1l.5 3l.8-16l.7 9l.5-2l.9 17l.7-12l.7 12l.6-11l1 19l2.2-35l1.6 38l.4-7l.7 11l1.3-33l.6 9l.3-2l.4 2l.5-2l.8 14l.8-16l.7 23l.7-18l.4 1l1.2-31l1.9 42l.9-12l1.6 30l1.6-26l.6 10l.8-7l.6 4l.7-10l.8 20l.5-4l.5 10l1.1-23l1 18l.5-3l.2 0l.8-14l.4 4l.8-14l.6 10l.5-5l.9 17l.7-12l.5 8l.3-2l.8 10l.7-11l.9 29l.7-26l.5 13l.9-8l.8 10l.6-17l.9 7l.4-3l1 15l.7-10l.5 3l.6-8l.5 6l.8-25l1.8 43l.7-20l.9 16l.5-6l.7 16l.4-7l.3 0l.4-5l.6 8l.4-5l.6 7l.5-8l.4 2l.6-11l.5 6l.4-7l1.3 12l.7-9l.5 16l.7-18l.8 28l.8-27l.9 15l.3-4l.5 5l1.2-12l.9 29l.5-22l1.6 31l.8-28l.4 6l.4-8l.4 7l.6-13l1.2 30l.8-16l.6 17l1.6-23l.8 26l.9-16l.5 10l.1 0l.4 4l.4-9l.8 10l.6-23l.5 12l.3-6l1 24l.9-23l.7 9l.6-5l.5 14l.5-10l.7 18l.6-26l.5 11l.2-1l.5 8l.4-10l.6 6l.5-4l.3 0l.3-1l.5 10l1-13l.7 14l.3-3l.6 9l.5-6l.2 1l.6-8l1 19l1.3-23l.5 9l.1 0l.4 5l.5-13l.3 3l.2 0l.3 2l.2-2l.9 25l.7-15l.3 3l.2-2l.4 4l.4-8l.4 4l.3-2l.3 2l.9-15l1.6 24l.9-21l.8 14l.6-12l.8 24l.6-7l.5 13l.4-10l.5 11l.9-16l.4 7l.7-16l1.2 19l.6-6l.8 7l1.2-16l.9 12l.4-6l.4 6l.5-9l1.2 14l.5-9l.5 11l.4-6l.1 0l.4-3l.5 5l.3-4l.4 8l.3-7l.3 7l.4-7l1.4 10l.5-2l.3 2l.5-3l.4 3l.4-12l.5 14l.6-11l.7 7l.4-4l.4 4l.4-4l.4 3l.3-2l.9 8l.4-9l.8 17l.5-7l.1 1l.5-7l.4 6l.4-3l.3 4l.6-5l.7 9l.4-6l.5 8l.2-2l.2 0l.4-8l.2 1l.4-3l.5 10l.4-6l.2 1l.6-3l.6 5l.4-4l.4 2l.8-4l.4 4l.2 0l.5 5l.2-1l.2 1l.3-1l.3-2l.3 1l.1 0l.4 2l.4-4l.5 9l.3-4l.4 4l.4-4l.2 1l.2-1l.3 2l.3-4l.6 4l.4-5l.4 6l.2-1l.4 5l.4-3l.2 0l.3-4l.5 5l.3-3l.3 2l.1-1l.3 2l.5-4l.2 3l.3-3l.9 4l.2-1l.3 3l.3-5l.5 8l.6-8l.5 3l.2-1l.3 2l.2-1l.5 5l.3-1l.2 0l.2-1l.3 2l.4-7l.3 2l.2 0l.3 2l.2 0l.4 3l.3-2l.2 1l.1 0l.2 0l.5-2l.7 5l1.3-8l.6 7l.4-4l.7 6l.4-3l.1 0l.2 0l.5 3l.3-1l.1 0l.2 0l.4 3l.2-1l.2 0l.3-2l.2 0l.1 0l.3 1l.1 0l.3 1l.2-3l.6 7l.3-5l.4 2l.3-1l.2 2l.4-3l.4 3l.4 0l.9 3l.2-1l.2 1l.3-1l.2 0l.2-1l.4 2l.2 0l.3 2l.4-4l.3 2l.4 0l.4 2l.4-3l.3 1l.3-1l.4 3l.3-1l.4 2l.2-1l.1 0l.3-1l.3 1l.1 0l.4 2l.3-2l.4 1l.3 0l.6 2l.5-4l.8 4l.3-1l.6 1l.2 1l.3-1l.2 0l.3-1l.3 2l.5-3l.7 4l.4-2l.2 1l.2-1l.2 1l.1-1l.3 3l.3-2l.3 1l.2-1l.3 3l.2 0l.5 1l.3-2l.2 0l.2 0l.2 1l.2-1l.2 1l.2 0l.4 0l.2-1l.4 1l.1 0l.6 1l.2 0l.4 1l.3 0l.4 1l.3-2l.3 2l.3-2l.3 1l.3-1l.3 2l.2-1l.2 1l.3-1l.2 1l.1 0l.4 3l.3-2l.2 1l.2-2l.2 1l.3-2l.3 3l.3-2l.5 3l.6-2l.4 2l.4-2l.4 2l.3-2l.3 1l.1 0l.3 2l.2-1l.2 0l.5 1l.2-1l.3 2l.4 0l.2 0l.4-1l.2 1l.1 0l.3 0l.1 0l.2 0l.3-1l.1 0l.2 0l.2 1l.3-1l.5 3l.3-1l.2 1l.2-1l.5 2l.4-2l.3 2l.3-2l.4 1l.1 0l.4 2l.6-3l.4 2l.4 2l.3-2l.5 2l.3-2l.2 1l.3-2l.4 3l.4-2l.3 2l.2-1l.2 1l.6-2l.5 3l.2-1l.2 2l.6-3l.3 3l.2-1l.2 1l.2 0l.8 2l.3-2l.2 0l.1 0l.2 1l.3-1l.2 0l.1 0l.3 1l.3-2l.4 2l.1 0l.3 1l.2 0l.3 1l.3-1l.1 0l.2-1l.4 1l.1 0l.2 2l.5-2l.2 1l.1 0l.2 1l.3-1l.2 0l.2-1l.3 2l.5-1l.3 2l.3-2l.3 2l.5-2l.4 2l.1 0l.3 1l.3-3l.5 3l.2 0l.1 0l.6-3l.1 1l.2-1l.5 4l.4-2l.4 2l.3-2l.2 3l.3-2l.1 1l.2-1l.4 1l.2-1l.2 0l.1 0l.2 1l.2-1l.1 1l.3-1l.2 0l.3 2l.3-1l.4 1l.2-1l.4 1l.3-1l.7 2l.3-2l.3 2l.3 0l.3 1l.2-2l.3 1l.1 0l.1 1l.1 0l.2 0l.2-1l.1 1l.4-1l.2 1l.1-1l.2 1l.1 0l.2-1l.3 2l.1-1l.2 2l.2-1l.2 1l.2-3l.4 3l.4-3l.4 3l.2-1l.5 3l.3-3l.1 1l.2-1l.4 1l.2 0l.3 2l.2-1l.2 1l.4-1l.4 2l.5-3l.3 2l.2-2l.4 3l.2-1l.3 1l.3-2l.2 2l.2-1l.1 1l.3-2l.2 3l.2-2l.1 1l.2-2l.3 4l.4-4l.1 1l.1-1l.2 3l.3-3l.1 1l.2 0l.2 1l.1 0l.5 1l.2-1l.1 1l.3-1l.2 1l.1-1l.2 1l.2-2l.4 4l.3-2l.2 1l.2 0l.2-1l.3 1l.2-1l.3 1l.2 0l.1-1l.2 1l.2 0l.1 0l.2 0l.1 0l.2 1l.2-1l.6 2l.2-1l.2 1l.3-2l.2 2l.3-1l.1 1l.1-1l.2 1l.4-2l.3 3l.3-2l.2 2l.4-3l.2 2l.2-1l.4 2l.2-2l.2 1l.1 0l.4 3l.3-2l.1 0l.1 0l.1 0l.2 0l.4 2l.3-2l.1 0l.2-1l.5 3l.3-2l.2 2l.2-2l.2 1l.2-1l.4 2l.3-3l.5 3l.2-2l.3 2l.2 0l.2 1l.3-2l.3 2l.1 0l.2 1l.2-2l.1 1l.2-1l.2 1l.2-2l.3 2l.2-1l.2 1l.1-1l.2 2l.1-1l.2 1l.1 0l.1 0l.2-2l.5 3l.4-3l.2 0l.2 2l.3 1l.2-1l.1 1l.1-1l.2 1l.1 0l.1 0l.3-2l.2 1l.1 0l.2 1l.2-2l.1 2l.2-1l.1 0l.1 0l.2 2l.2-1l.3 0l.2-1l.2-1l.3 2l.1-1l.2 2l.3-2l.4 3l.1-1l.2 1l.2-2l.2 1l.2-1l.2 1l.2-2l.2 3l.4-3l.3 2l.2 0l.2 1l.2-1l.2 2l.3-2l.3 1l.2-1l.1 1l.2-1l.2 1l.3-1l.1 1l.1 0l.2 0l.3-1l.2 1l.1 0l.2 1l.2-2l.4 2l.1-1l.2 3l.2-3l.3 2l.2-2l.2 1l.1 0l.2 0l.1-1l.1 0l.1 0l.3 2l.3-1l.1 2l.3-2l0 1l.2-1l.2 1l.1-1l.1 1l.2-1l.3 1l.2-2l.2 2l.3-1l.3 0l.1 0l.2 2l.2 0l.3-1l.3 2l.4-3l.2 2l.3-2l.1 1l.1 0l.2 2l.1 0l.1 0l.2-3l.3 5l.2-3l.1 0l.2-1l.2 3l.3-2l.2 1l.3-3l.2 2l.1-1l.2 2l.2-1l.1 0l.2-1l.4 2l.2-1l.1 0l.3-1l.6 3l.1-2l.1 1l.2-1l.3 1l.1-2l.2 1l.1 0l.5 3l.1 0l.1 0l.1 0l.3-4l.2 2l.2 0l.2 1l.2-2l.1 2l.4-2l.2 2l.1-1l.2 2l.2 0l.3-2l.3 2l.1-2l.4 2l.2-3l.4 3l.1 0l.1 1l.1-1l.1 0l.1-1l.2 1l.1-2l.2 2l.1-1l.1 1l.2 0l.1-1l.2 2l.1-1l.3 1l.1-1l.1 1l.2-1l.1 0l.1-1l.4 3l.2-2l.3 2l.3-3l.1 2l.3 0l.1 0l.1-1l.1 2l.3-4l.1 2l.4 3l.1-1l.1 0l.3-2l.1 2l.2-2l.2 2l.2-2l.1 0l.2 1l.2-1l.1 1l.5 132" stroke="#f0f" stroke-width="4" stroke-dasharray="13 7.8"/>
</g>
<g fill="none" stroke-linejoin="round" shape-rendering="crispEdges" clip-path="url(#cb)">
<path d="M358.3 1813l21.7 2l123.6 13l79.3 24l61.1 41l46.6 52l35.3 60l35.2 93l24.7 88l25.4 104l23.3 40l20.1-23l16.5-41l18.1-38l15.3-11l14.3 6l13.4 20l12.5 34l11.8 35l11.2 31l10.6 12l10.1-9l9.7-17l9.2-14l8.8-5l8.4 4l8.2 16l7.8 25l7.5 30l7.3 28l7 13l6.8-6l6.5-18l6.4-16l6.2-10l6-2l5.8 5l5.7 14l5.5 17l5.4 16l5.2 9l5.1 4l5-2l4.9-3l4.7-2l4.7 6l4.5 9l4.5 13l4.4 13l4.2 12l4.2 8l4.1-2l4-6l4-7l3.8-4l3.8 2l3.8 8l3.6 11l3.6 13l3.6 9l3.4 4l3.5-1l3.3-7l3.3-9l3.3-4l3.2 2l3.2 4l3.1 6l3.1 9l3 7l3 1l2.9-4l2.9-6l2.8-5l2.9-4l2.7-1l2.8 3l2.7 10l2.7 15l2.6 13l2.6 4l2.6-1l2.5 0l2.5-1l2.5 0l2.4 1l2.5 3l2.4 3l2.3 2l2.4-1l2.3-3l2.3-5l2.2-5l2.3-3l2.2-1l2.2 3l2.1 4l2.2 6l2.1 6l2.1 6l10.2-10l2 2l1.9 6l2 8l1.9 9l1.9 11l1.9 8l1.9 4l1.8 2l1.9 3l1.8 4l1.8 4l1.8 4l1.8 4l1.7 4l1.8 1l1.7-3l1.7-6l1.7-11l1.7-7l1.7-1l1.7 0l1.6 2l1.7 5l1.6 6l1.6 9l1.6 10l1.6-3l1.5-8l1.6-9l1.6-11l1.5-5l1.5-1l1.5 0l1.5 0l1.5 0l1.5 2l1.5 2l1.5 4l1.4 5l1.5 4l1.4 6l1.4 7l1.4 11l1.4 11l1.4 8l1.4 5l1.4 3l1.3 0l1.4-4l1.4-4l1.3-3l1.3-3l1.3-1l1.4 0l1.3 0l1.3 0l1.3 0l1.2 0l1.3 2l1.3 3l1.2 7l1.3 10l1.2 3l1.3-1l1.2-4l1.2-4l1.2-7l1.2-8l1.2-4l1.2-2l1.2 0l1.2 0l1.2 3l1.1 6l1.2 8l1.1 5l1.2 2l1.1 1l1.2 2l1.1 2l1.1 2l1.1 2l1.1 4l1.1 9l1.1 8l1.1-2l1.1-4l1.1-6l1.1-5l1-7l1.1-5l1.1-3l1-2l1.1-1l1 0l1 0l1.1 1l1 1l1 1l1 1l1.1 2l1 2l1 2l1 0l1-1l.9 0l1-1l1 0l1-1l1 1l.9 3l1 5l.9 9l1 9l.9 5l1-3l.9-4l1-3l.9-3l.9-3l.9-2l.9-1l1 0l.9 2l.9 2l.9 4l.9 3l.9 3l.9 3l.8 4l.9 3l.9 3l.9 3l.9 3l.8 3l.9 2l.8 0l.9-1l.9-2l.8-3l.9-3l.8-2l.8-1l.9-1l.8-1l.8 0l.9 2l.8 5l.8 5l.8 4l.8 0l.8-2l.9-2l.8-3l.8-3l.8-2l.7-1l.8 0l.8 1l.8 1l.8 1l.8 1l.8 2l.7 1l.8 1l.8 0l.7 1l.8 1l.8 1l.7 0l.8 1l.7 1l.8 1l.7 1l.8 2l.7 1l.7 2l.8 1l.7 0l.7 0l.8-2l.7-2l.7-3l.7-3l.7-4l.8-2l.7 0l.7 1l.7 3l.7 5l.7 5l.7 5l.7 4l.7 1l.7-1l.7-3l.7-5l.6-2l.7 0l.7 5l.7 9l.7 11l.6 12l.7 12l.7 10l.7 8l.6 4l.7 0l.7-5l.6-10l.7-12l.6-13l.7-9l.6-4l.7 1l.6 5l.7 5l.6 4l.7 2l.6 2l.6 2l.7 3l.6 2l.6 0l.7-5l.6-8l.6-11l.7-11l.6-9l.6-7l.6-4l.6-3l.6-1l.7-1l.6 0l.6 1l.6 1l.6 3l.6 4l.6 5l.6 5l.6 6l.6 7l.6 6l.6 6l.6 5l.6 4l.6 3l.5 3l.6 5l.6 5l.6 5l.6 3l.6 0l.5-4l.6-7l.6-8l.6-8l.5-6l.6-4l.6-1l.5 0l.6 3l.6 3l.5 3l.6 3l.5 1l.6 1l.6 1l.5 3l.6 3l.5 5l.6 5l.5 5l.6 4l.5 4l.5 3l.6 2l.5 0l.6-3l.5-6l.5-9l.6-9l.5-7l.5-2l.6 3l.5 8l.5 10l.6 8l.5 3l.5-3l.5-7l.6-10l.5-9l.5-7l.5-2l.5 2l.6 5l.5 4l.5 4l.5 0l.5-2l.5-3l.5-2l.5 0l.5 3l.5 6l.5 6l.5 2l.5-3l.5-8l.5-11l.5-9l.5-6l.5-2l.5 1l.5 3l.5 3l.5 3l.5 4l.5 7l.5 10l.4 12l.5 13l.5 12l.5 8l.5 2l.4-4l.5-8l.5-9l.5-7l.5-3l.4-1l.5 0l.5-3l.4-6l.5-7l.5-5l.5 0l.4 6l.5 9l.5 8l.4 5l.5 3l.4 1l.5 1l.5 1l.4 0l.5-1l.4-2l.5-4l.4-5l.5-3l.4-3l.5-1l2.2-4l5.3 41l3.5-39l2.5 31l3-43l4.5 90l3.2-52l4 39l3.1-38l.4 0l1.6-12l1.9 24l1.5-6l1.1 7l2.6-18l4.4 63l3.6-39l2.9 29l2.4-46l3.1 27l1.4-12l1.7 28l1-5l1.3 7l1.4-12l1 11l2.3-45l5.4 99l2.2-74l1.6 25l1.6-13l2.4 58l2.5-76l.9 4l3.3-29l2.6 84l4.1-28l.5 1l1.5-19l1.7 44l1.1-20l1.1 37l2-36l3 39l2.4-53l1.1 13l3.2-46l2.6 79l2.3-58l.8 7l1.3-16l3.8 85l2.7-29l1 7l1.2-9l1 10l.7-4l2.4 77l1.9-69l1.2 16l2.4-58l1.4 81l1.6-47l.9 18l1.4-42l1.1 31l2-91l3.4 148l1.9-97l1.3 19l1.3-10l2 65l1-43l.9 17l1.5-93l1.8 92l.4 0l2.7 72l1.9-74l.6 7l1.2-51l1.2 31l1.2-43l2.6 99l1.1-49l3 88l2.1-87l2.1 54l.3-1l.6 6l1.3-64l.6 4l1.3-14l1.3 52l1.3-20l1.1 24l.9-16l.9 15l1.4-82l1.3 51l1-34l1.1 63l1-33l.9 29l.4-1l1 22l2.1-43l1.2 32l1.3-106l2.7 139l1-50l2 44l1.7-115l1.3 105l.5-10l1.4 36l1-27l.8 44l1.6-82l1.4 53l1.3-86l1.2 49l2-75l1.7 121l.9-51l.8 37l.9-45l.9 21l.4-4l.9 43l2-69l1 63l1.2-24l1.2 35l1-62l.5 17l.5-4l.6 19l1.1-46l1.1 43l1-92l1.3 142l1.3-76l.8 26l.7-17l1.4 54l1.9-137l1.2 89l1.5-46l1 37l.8-28l.9 31l.5-25l.7 23l.6-35l1 89l1.8-94l.9 64l1.4-90l2.1 160l1.9-114l1.7 82l1.3-65l.6 24l.6-11l1 40l.9-51l.2 0l1.2-60l1 66l.6-11l1.2 54l.7-35l.4 7l.7-33l2.3 86l1.4-78l.8 63l1.8-111l1 84l.9-56l.9 65l.8-23l.9 30l.6-15l.9 35l1.3-80l.7 40l.4-9l.2 0l.8-35l1.4 55l.4-4l.6 61l.8-99l.3 7l.5-46l1.8 120l1.4-90l.2 0l.9-39l1.1 73l.8-83l.7 57l.8-21l.8 52l.6-56l.8 121l.6-95l.5 53l.9-86l.2 3l.5-8l.3 3l.4-8l.3 2l.5-17l.9 73l.4-7l.6 41l1.8-82l1.1 80l.6-79l.9 64l.4-12l.5 64l.7-80l.6 30l.2-1l.9 22l.7-56l1.6 53l.4-27l.6 33l.8-40l.7 37l1-110l.4 25l.3-3l1.1 99l.8-54l.1 1l1-52l.6 46l.6-30l.4 20l.5-11l.6 54l.5-21l.6 37l.9-43l.9 90l.8-101l.6 26l.5-18l.5 68l.5-99l.6 44l.6-99l1 98l.3-4l.6 60l1.1-128l.9 127l.6-49l.4 20l1-59l.8 109l.7-80l.4 37l.3-14l.4 31l.8-63l.5 31l.7-78l1.7 134l.6-93l.6 80l.6-81l.4 36l.4-24l.6 108l.7-97l.5 50l.7-108l1.2 167l.6-127l.5 15l.5-14l.2 8l.3-4l.5 41l1.3-67l.6 100l.5-99l.5 68l.3-6l.2 5l.6-45l1.1 115l1.3-104l.1 1l.3-2l.5 42l.2-5l.4 26l.5-88l.3 9l.8-59l1 202l.7-145l.3 12l.4-12l.2 2l.7-27l.2 8l.3-14l.6 45l.8-57l.9 94l1.7-65l.2 4l.3-4l.5 54l.5-59l.7 99l.8-55l.6 107l.4-26l.2 3l.4-8l.4 38l1.4-175l.2 6l.2-10l.7 99l.3-27l.5 80l.3-71l.4 20l.1-1l.3 11l1.3-120l.6 78l.1-1l.4 31l.5-95l.5 109l.3-26l.6 28l.4-18l.3 7l.7-67l.5 136l.8-122l.3 9l.7-47l.4 69l.3-15l.2 18l.4-73l.4 55l.2-7l.6 122l1-72l.5 19l.3-16l.3 15l.6-74l.5 64l.6-61l.2 4l.3-14l.3 42l.2-10l.5 79l.8-175l.4 81l.4-66l.5 104l.4-29l1.1 121l1-98l.5 87l.4-140l.5 102l.5-85l.5 69l.3-30l.3 13l.1-5l.5 69l.9-167l.8 62l.5 107l.3-42l.2 11l.5-132l.5 120l.4-41l.7 47l.4-75l.3 17l.5-65l1 154l.2-16l.3 28l.3-70l.4 33l.3-29l.3 19l.9-105l.9 141l.4-68l.3 50l.4-68l.2 6l.1-3l.5 77l.6-157l.5 129l.2-20l.3 39l.4-60l.4 67l.4-116l.5 30l.2-15l.3 44l.3-41l.4 70l.4-52l.2 14l.2-4l.2 13l.3-17l.9 90l.5-131l.4 112l.7-141l.2 18l.3-27l.2 32l.2-5l.4 65l.2-25l.9 116l.3-37l.2 6l.4-150l.3 78l.3-50l.3 61l.3-48l.3 48l.4-34l.5 105l.7-126l.6 79l.6-84l.6 42l.3-34l.7 90l.5-26l.1 9l.4-77l.2 7l.6-35l.8 163l.6-55l.5 49l.5-133l.2 15l.2-12l.7 133l.3-56l.2 70l.7-123l.3 30l.4-92l.3 47l.3-60l.6 143l.7-90l.5 111l.3-75l.2 9l.2-13l.3 21l.3-42l.7 105l.4-89l.4 81l.5-52l.3 37l.3-57l.4 34l.3-20l.2 11l.2-15l.4 103l.4-117l.3 52l.4-35l.4 58l.3-50l.3 56l.7-122l.4 96l.2-17l.4 46l.5-149l.5 114l.1-4l.1 3l.4-101l.3 56l.2-15l.4 16l.4-51l.3 28l.1 0l.4 97l.2-39l.2 40l.4-50l.1 3l.1-2l.3 21l.2-61l.3 46l.4-112l.3 172l1-151l.1 9l.1-3l.4 113l.3-104l.4 73l.1-9l.3 83l.5-90l.6 63l.1 0l.3 68l.6-187l.1 1l0-2l.4 108l.3-42l.4 69l.3-60l.3 45l.5-131l.5 182l.6-123l.1 5l.5-103l.5 195l.7-126l.4 137l.5-100l.1 11l.5-71l.5 156l.3-77l.1 12l.5-116l.4 127l.3-30l.2 8l.3-40l.3 21l.2-23l.3 56l.4-54l.4-55l.1 21l.2-14l.7 113l.2-13l.6 57l.3-78l.2 30l.3-71l.4 31l.3-37l.4 131l.5-102l.1 6l.2-12l.4 79l.8-132l.7 102l.4-61l.4 94l.2-22l.1 8l.2-14l.2 19l.4-90l.3 94l.4-70l.6 61l.3-59l.1 16l.3-34l.2 26l.1-17l.3 47l.2-21l.3 62l.4-99l.3 71l.2-15l.2 33l.3-97l.3 97l.3-125l.4 71l.2-76l.4 132l.3-103l.2 63l.2-53l.3 131l.2-77l.6 91l.5-211l.4 77l.2-29l.4 109l.4-96l.4 123l.3-99l.3 47l.3-69l.3 120l.3-107l.2 29l.4-39l.2 49l.3-68l.3 96l.3-86l.2 72l.4-52l.2 48l.1-16l.2 21l1.1-123l.4 120l.2-15l.1 11l.3-38l.2 103l.4-149l.2 56l.2-58l.3 115l.5-77l.1 15l.4-121l.3 122l.3-142l.4 173l.2-18l.4 43l.4-162l.3 85l.1-10l.2 41l.1-16l.3 101l.6-132l.2 43l0-5l.2 31l.4-49l.3 127l.4-159l.3 101l.4-145l.3 105l.1-27l.2 20l.5-102l.4 172l.2-38l.1 11l.1-2l.2 12l.2-45l.1 52l.3-101l.2 64l.2-62l.2 128l.9-237l.3 167l.2-22l.3 63l.3-66l.3 68l.3-84l.4 31l.3-40l.6 151l.4-179l.3 52l.2-31l.1 32l.4-56l.4 64l.3-95l.2 107l.3-82l.7 134l.3-72l.3 123l.5-238l.3 105l.1-38l.2 50l.2-63l.4 135l.3-91l.3 158l.3-103l.3 66l.3-142l.3 77l.2-42l.4 41l.1-33l.2 35l.1-18l.3 53l.1-14l.2 48l.3-121l.1 0l.1-16l.3 89l.3-113l0 6l.2-10l.3 119l0-1l.1 6l.3-77l.3 48l.2-28l.3 36l.2 17l.2-15l.2 17l.3-112l.4 115l.2-75l.3 58l.3-74l.4 100l.6-148l.5 139l.5-122l.3 81l.2-69l.2 72l.1-5l.2 54l.3-72l.2 76l.2-71l.2 47l.2-28l.3 112l.4-249l.3 144l.2-66l.3 89l.2-63l.1 2l.2-60l.2 73l.1-25l.2 55l.2-70l.2 104l.6-133l.5 126l.2-60l.2 14l.3-64l.2 87l.2-85l.2 56l0-5l.6 93l.2-114l.2 65l.3-67l.4 87l.3-70l.2 11l.4-85l.3 141l.1-48l.1 24l.4-104l.2 83l.2-139l.3 138l.1-41l.2 57l.6-104l.3 85l.2-33l.1 42l.2-105l.2 132l.3-70l.3 70l.2-85l.4 116l.3-138l.3 137l.1-43l.2 83l.4-176l.2 85l.3-147l.5 177l.3-120l.2 74l.2-40l.2 60l.2-27l.1 6l.3-112l.4 214l.4-127l.5 111l.2-96l.2 55l.2-34l.2 26l.1-52l.1 8l.2-17l.1 26l.2-62l.2 29l0-2l.3 100l.2-44l.1 15l.4-119l.2 97l.3-73l.2 13l.1-12l.2 79l.6-110l.2 34l0-8l.3 93l.3-36l.1 13l.1-30l.1 7l.1-6l.2 52l.2-89l.3 41l.1-15l.3 86l.2-78l.3 59l.2-31l.3 32l.3-109l.3 61l.1-27l.2 71l.2-116l.8 163l.2-113l.2 26l.1-24l.2 48l.2-48l.2 81l.1-13l.2 54l.2-153l.3 83l.2-91l.2 88l.2-37l0 4l.2-11l.2 116l.2-59l.1 14l.2-80l.2 17l.1-33l.4 116l.1-16l.1 8l.1-28l.2 26l0-1l.2 36l.4-80l.1 18l.3-30l.2 42l.2-106l.3 61l.2-53l.4 97l.2-57l.1 70l.3-115l.2 86l.1-27l.1 38l.5-89l.3 133l.5-165l.2 113l.1-28l.1 32l.3-96l.2 42l.2-78l.2 173l.1-78l.2 94l.2-71l.1 11l.1-30l.1 23l.2-24l.2 51l.2-38l.1 1l.2-38l.1 60l.2-28l.1 2l.3-75l.2 36l.4-101l.2 90l.1-33l.2 168l.3-139l.1 19l.2-42l.2 83l.2-45l.1 5l.2-28l.2 48l0-5l.2 45l.1-8l.1 31l.2-95l.2 39l0-19l.2 44l.1-33l.3 78l.2-118l.2 82l.2-55l.2 48l.1-30l.1 15l.1-6l.2 73l.2-145l.1 74l.2-63l.2 75l.1-12l.1 64l.1-25l.3 30l.2-42l.1 22l.2-49l.2 11l0-2l.1 39l.2-87l.2 39l.2-70l.3 144l.3-58l.2 24l.2-50l.2 22l.3-87l.2 154l.2-144l.2 88l.2-42l.1 25l.3-53l.2 25l.1-32l.2 119l.1-67l.1 3l.4-43l.1 7l.1-25l.1 43l.2-81l.2 111l.2-126l.1 18l.1-22l.3 166l.2-65l.1 69l.2-82l.1 16l.2-26l.1 91l.1-27l.1 9l.2-66l.2 69l.2-119l.3 79l.2-25l.1 18l.1-3l.2 50l.1-15l.1 11l.3-118l.3 160l.2-120l.1 111l.4-182l.1 12" stroke="#000" stroke-width="3.7"/>
<path d="M358.3 1813l21.7 2l123.6 13l79.3 24l61.1 41l46.6 50l35.3 60l35.2 90l24.7 86l25.4 88l23.3 38l20.1-19l16.5-35l18.1-30l15.3-10l14.3 1l13.4 30l12.5 31l11.8 37l11.2 30l10.6 14l10.1-5l9.7-17l9.2-19l8.8-2l8.4 0l8.2 16l7.8 28l7.5 32l7.3 25l7 9l6.8-6l6.5-17l6.4-11l6.2-6l6-4l5.8 8l5.7 14l5.5 22l5.4 7l5.2 8l5.1 7l5-1l4.9-9l4.7 1l4.7-2l4.5 10l4.5 13l4.4 18l4.2 11l4.2 3l4.1 1l4-9l4-3l3.8-7l3.8 6l3.8 6l3.6 12l3.6 10l3.6 8l3.4 6l3.5-2l3.3-6l3.3-9l3.3 0l3.2-3l3.2 10l3.1 9l3.1 5l3 14l3 3l2.9-5l2.9-10l2.8-6l2.9 0l2.7 4l2.8 1l2.7 10l2.7 10l2.6 8l2.6 5l2.6-6l2.5 2l2.5 1l2.5-2l2.4 2l2.5 1l2.4 9l2.3 4l2.4-5l2.3 0l2.3-2l2.2 1l2.3-4l2.2-1l2.2 2l2.1 6l2.2 8l2.1 2l2.1 2l10.2 3l2 8l1.9 8l2 8l1.9 6l1.9 5l1.9 4l1.9 2l1.8-1l1.9-1l1.8-2l1.8-1l1.8-1l1.8 1l1.7 1l1.8 2l1.7 3l1.7 2l1.7 3l1.7 3l1.7 3l1.7 5l1.6 5l1.7 5l1.6 5l1.6 3l1.6 2l1.6-1l1.5-3l1.6-5l1.6-7l1.5-7l1.5-6l1.5-3l1.5-1l1.5 3l1.5 5l1.5 5l1.5 4l1.4 3l1.5 0l1.4-1l1.4-2l1.4-3l1.4-1l1.4 0l1.4 1l1.4 2l1.3 2l1.4 2l1.4 1l1.3 2l1.3 2l1.3 2l1.4 1l1.3 1l1.3 0l1.3 0l1.2-1l1.3 0l1.3 1l1.2 1l1.3 2l1.2 2l1.3 3l1.2 3l1.2 4l1.2 4l1.2 4l1.2 4l1.2 4l1.2 3l1.2 2l1.2 0l1.1-1l1.2-2l1.1-4l1.2-3l1.1-2l1.2-1l1.1 1l1.1 2l1.1 3l1.1 5l1.1 5l1.1 5l1.1 4l1.1 2l1.1 0l1.1-2l1-4l1.1-4l1.1-3l1-1l1.1 0l1 1l1 2l1.1 2l1 2l1 2l1 2l1.1 3l1 2l1 3l1 3l1 3l.9 2l1 3l1 3l1 2l1 2l.9 2l1-1l.9-1l1-3l.9-4l1-3l.9-2l1 1l.9 2l.9 3l.9 4l.9 4l1 2l.9 2l.9-1l.9-2l.9-1l.9-2l.9-1l.8-1l.9-2l.9-3l.9-4l.9-4l.8-5l.9-4l.8-3l.9-2l.9-1l.8 1l.9 2l.8 3l.8 4l.9 5l.8 6l.8 7l.9 8l.8 8l.8 7l.8 5l.8 2l.8 0l.9-2l.8-3l.8-2l.8-1l.7 0l.8 2l.8 2l.8 2l.8 2l.8 1l.8 0l.7 0l.8-1l.8-2l.7-1l.8-1l.8 0l.7 1l.8 2l.7 1l.8 2l.7 0l.8 1l.7 0l.7 0l.8 1l.7 0l.7 1l.8 1l.7 2l.7 2l.7 1l.7 0l.8 0l.7 1l.7 1l.7 2l.7 1l.7 1l.7 0l.7-1l.7-1l.7-1l.7-1l.7-1l.6-1l.7-1l.7 1l.7 2l.7 4l.6 4l.7 6l.7 5l.7 5l.6 3l.7 0l.7-1l.6-4l.7-5l.6-5l.7-3l.6-1l.7 0l.6 2l.7 2l.6 2l.7 1l.6 1l.6 0l.7 1l.6-1l.6-1l.7-2l.6-4l.6-4l.7-5l.6-3l.6-1l.6 0l.6 2l.6 2l.7 3l.6 1l.6 1l.6 1l.6 0l.6 1l.6 2l.6 2l.6 2l.6 3l.6 2l.6 2l.6 1l.6 0l.6 1l.5 1l.6 2l.6 3l.6 2l.6 2l.6 0l.5-1l.6-1l.6-2l.6-2l.5-2l.6 0l.6 0l.5 2l.6 3l.6 3l.5 4l.6 3l.5 2l.6 1l.6 0l.5 0l.6-1l.5-1l.6 0" stroke="#f00" stroke-width="3" stroke-dasharray="13 7.8"/>
<path d="M1586.2 2806.4l2.7 1.7l2.7-5.7l2.7 2.6l2.7 3.2l2.6 3l2.7 2.8l2.7 6.5l2.7-.5l2.7-1.2l2.7-1.7l2.6-1l2.7 1.5l2.7 11.3l2.7 6.7l2.7-2l2.7-6.6l2.6 7.8l2.7 .4l2.7 1.4l2.7 5.5" stroke="#f00" stroke-width="3.8"/>
<path d="M1639.9 2842.1l2.7-4.1l2.7 7.5l2.6 2.2l2.7-1.8l2.7 2.5l2.7 6.9l2.7 2.1l2.7 2l2.6 5.7l2.7-.4l2.7-.8l2.7 5.4l2.7-1.6l2.7 5.6l2.6 2.9l2.7 2.1l2.7 3.8l2.7-1.1l2.7 0l2.7 1.7l2.6 3.1l2.7 4.9l2.7 2.7l2.7 .7" stroke="#f00" stroke-width="5"/>
<path d="M1704.3 2894.1l2.7-3.3l2.7 3.3l2.6 6l2.7 0l2.7 4.3l2.7 7.5l2.7-1l2.7-1.9l2.6 2.1l2.7 4.8l2.7 4.2l2.7-1.7l2.7 6.5l2.7 3.6l2.6 .2l2.7 2.3l2.7-.8l2.7 4.4l2.7 1.6l2.7-.1l2.6 1.2l2.7 3.1l2.7 2.2l2.7 5l2.7 .6l2.7 3.9l2.6 .4l2.7 1.7l2.7 1.5l2.7 3l2.7 1.9l2.7 1.9l2.6 2.6l2.7 .5l2.7 2.6l2.7 3.9l2.7 3.6l2.7-.6l2.7 1.9l2.6 4.2l2.7 .9l2.7 3.8l2.7 .3l2.7 3.4l2.7-.2l2.6 2.2l2.7 3.1l2.7 4.6l2.7 .6l2.7 .5l2.7 2l2.6 4.4l2.7 3.6l2.7 .2l2.7 2.6l2.7 2.4l2.7 1.2l2.6 .3l2.7 4.9l2.7 2.8l2.7-.1l2.7 4.2l2.7 2l2.6 1.5l2.7 2l2.7 .3l2.7 4l2.7 3.3l2.7 3l2.6 .1l2.7 4l2.7 1.2l2.7 1.4l2.7 .4l2.7 3.7l2.6 3l2.7-.3l2.7 2.3l2.7 2.1l2.7 .7l2.7 2.4l2.6 2l2.7 1.4l2.7 2.6l2.7 2.3l2.7 2.4l2.7-.3l2.6 4.6l2.7 1.9l2.7 2.6l2.7 3.2l2.7 1l2.7 1.9l2.6 3.4l2.7 1.9l2.7 1.6l2.7 1.7l2.7 .5l2.7 3.9l2.6 3l2.7 1l2.7 1.4l2.7 3l2.7 2.6l2.7 2l2.6 1.9l2.7 2l2.7 .7l2.7 2.9l2.7 1.4l2.7 2.7l2.7 2.8l2.6 1.6l2.7 1.8l2.7 1.7l2.7 .2l2.7 2.7l2.7 1.7l2.6 1.2l2.7 3.5l2.7 1l2.7 1.5l2.7 1.8l2.7 1l2.6 3.3l2.7 .5l2.7 .5l2.7 3.4l2.7 1.1l2.7 1.7l2.6 2.2l2.7 2.3l2.7 1.7l2.7 1.1l2.7 1.4l2.7 2.2l2.6 2.1l2.7 1.3l2.7 2.2l2.7 1.6l2.7 2l2.7 1.4l2.6 1.8l2.7 .7l2.7 2.5l2.7 0l2.7 2.6l2.7 .5l2.6 1.8l2.7 2.1l2.7 1.4l2.7 .8l2.7 2.1l2.7 2.4l2.6 .6l2.7 1.1l2.7 2.4l2.7 .1l2.7 2.8l2.7 .3l2.6 1.8l2.7 1.1l2.7 1.1l2.7 1l2.7 .9l2.7 2.4l2.6 .9l2.7 1.5l2.7 1.3l2.7 .7l2.7 1.4l2.7 0l2.6 1.9l2.7 1.5l2.7 1.3l2.7 .3l2.7 2l2.7 0l2.6 .6l2.7 .5l2.7 1.5l2.7 .3l2.7 .9l2.7 1l2.7 1.3l2.6 .9l2.7 1.2l2.7-.3l2.7 1.3l2.7 .1l2.7 .7l2.6 1.5l2.7-.1l1 .6" stroke="#f00" stroke-width="7"/>
<path d="M358.3 1813l21.7 2l123.6 13l79.3 24l61.1 41l46.6 50l35.3 60l35.2 90l24.7 86l25.4 88l23.3 36l20.1-18l16.5-30l18.1-35l15.3-11l14.3 10l13.4 20l12.5 36l11.8 33l11.2 30l10.6 22l10.1-12l9.7-16l9.2-16l8.8-6l8.4 4l8.2 19l7.8 27l7.5 26l7.3 22l7 20l6.8-8l6.5-16l6.4-19l6.2-8l6 2l5.8-1l5.7 18l5.5 21l5.4 20l5.2 5l5.1-2l5-4l4.9 1l4.7-7l4.7 5l4.5 15l4.5 8l4.4 11l4.2 11l4.2 13l4.1-2l4-12l4-8l3.8 1l3.8 8l3.8 4l3.6 5l3.6 17l3.6 10l3.4 0l3.5 0l3.3-7l3.3-9l3.3-4l3.2-1l3.2 5l3.1 6l3.1 17l3 9l3 1l2.9 0l2.9-6l2.8-8l2.9-1l2.7-3l2.8 4l2.7 6l2.7 16l2.6 12l2.6 0l2.6-3l2.5-3l2.5 1l2.5 6l2.4-6l2.5 10l2.4 1l2.3 9l2.4-4l2.3 1l2.3-2l2.2-3l2.3-8l2.2 1l2.2 0l2.1 7l2.2 7l2.1 7l2.1 8l10.2 2l2 7l1.9 6l2 5l1.9 5l1.9 3l1.9 2l1.9 1l1.8-2l1.9-2l1.8-1l1.8-1l1.8 0l1.8 1l1.7 2l1.8 2l1.7 3l1.7 2l1.7 3l1.7 2l1.7 3l1.7 3l1.6 2l1.7 3l1.6 3l1.6 2l1.6 2l1.6 1l1.5 0l1.6 0l1.6-1l1.5-2l1.5-2l1.5-1l1.5 0l1.5 1l1.5 2l1.5 3l1.5 3l1.4 2l1.5 2l1.4 1l1.4-1l1.4-1l1.4-2l1.4-1l1.4 0l1.4 1l1.3 2l1.4 3l1.4 3l1.3 2l1.3 2l1.3 1l1.4 1l1.3 0l1.3 0l1.3 0l1.2 0l1.3 0l1.3 2l1.2 2l1.3 2l1.2 2l1.3 2l1.2 2l1.2 1l1.2 2l1.2 2l1.2 2l1.2 3l1.2 2l1.2 2l1.2 1l1.1 0l1.2 0l1.1 0l1.2 0l1.1-1l1.2-2l1.1 0l1.1 0l1.1 1l1.1 3l1.1 5l1.1 5l1.1 5l1.1 4l1.1 2l1.1 0l1 0l1.1-2l1.1-2l1-2l1.1-1l1 0l1 0l1.1 0l1 1l1 1l1 1l1.1 1l1 1l1 1l1 2l1 2l.9 3l1 2l1 2l1 0l1 0l.9 0l1-1l.9 0l1 0l.9-1l1 0l.9-1l1 0l.9 0l.9 1l.9 1l.9 1l1 2l.9 2l.9 1l.9 1l.9 1l.9 1l.9 0l.8 1l.9 0l.9 0l.9-1l.9 0l.8-1l.9-1l.8 1l.9 0l.9 2l.8 1l.9 1l.8 0l.8 2l.9 1l.8 3l.8 2l.9 3l.8 3l.8 4l.8 3l.8 3l.8 1l.9 1l.8-1l.8-2l.8-2l.7-3l.8-3l.8-2l.8-1l.8-1l.8 1l.8 1l.7 2l.8 2l.8 2l.7 1l.8 1l.8 1l.7 0l.8 0l.7 0l.8-1l.7 0l.8 0l.7 1l.7 1l.8 1l.7 1l.7 2l.8 2l.7 1l.7 2l.7 1l.7 2l.8 1l.7 2l.7 2l.7 2l.7 2l.7 0l.7 0l.7-2l.7-1l.7-2l.7-1l.7-1l.6 0l.7 1l.7 0l.7 2l.7 2l.6 2l.7 2l.7 2l.7 1l.6 1l.7-1l.7-1l.6-1l.7-1l.6 0l.7 0l.6 0l.7 1l.6 1l.7 1l.6 2l.7 1l.6 0l.6 1l.7 0l.6-1l.6 0l.7 0l.6-1l.6 0l.7-1l.6-1l.6-1l.6 0l.6 1l.6 1l.7 1l.6 2l.6 2l.6 1l.6 2l.6 1l.6 0l.6 1l.6 1l.6 0l.6 1l.6 1l.6 1l.6 1l.6 0l.5 0l.6 0l.6 1l.6 1l.6 1l.6 1l.5 0l.6 0l.6-1l.6-1l.5-1l.6-1l.6 0l.5 0l.6 1l.6 2l.5 1l.6 2l.5 1l.6 0l.6 0l.5 1l.6 0l.5 1l.6 0" stroke="#0f0" stroke-width="4" stroke-dasharray="13 7.8"/>
<path d="M1586.2 2804.3l2.7 1.6l2.7-2.2l2.7 .5l2.7 5.8l2.6 2.2l2.7 1.6l2.7 5.2l2.7 4.2l2.7-2.2l2.7-1.8l2.6 1l2.7 2.3l2.7 7l2.7 7.3l2.7 .4l2.7-6.5l2.6 4.1l2.7 1l2.7 5.4l2.7 5.1" stroke="#0f0" stroke-width="4.8"/>
<path d="M1639.9 2846.3l2.7-3.1l2.7 3.3l2.6 3.2l2.7-3l2.7 .7l2.7 7.6l2.7 1.8l2.7 1.6l2.6 5.5l2.7 .8l2.7-.9l2.7 4.9l2.7-1.5l2.7 6l2.6 6.8l2.7 2.7l2.7 .1l2.7-.9l2.7 1.9l2.7 1l2.6 .6l2.7 6.6l2.7 5.3l2.7-2" stroke="#0f0" stroke-width="6"/>
<path d="M1704.3 2895.3l2.7-1l2.7 1.7l2.6 2.7l2.7 .9l2.7 6.2l2.7 4.3l2.7-.9l2.7 1.5l2.6 1.7l2.7 3l2.7 6.2l2.7-4.5l2.7 5.6l2.7 6.1l2.6 2.1l2.7 1.1l2.7-.9l2.7 3.9l2.7 2.1l2.7-1.2l2.6 .2l2.7 5.2l2.7 .9l2.7 4.2l2.7 1.5l2.7 6.4l2.6 1.2l2.7 .9l2.7-1.6l2.7 5.4l2.7 1.2l2.7 1.8l2.6 3.6l2.7 1.1l2.7 .8l2.7 4.3l2.7 2.5l2.7-1.2l2.7 3.1l2.6 5.5l2.7 .4l2.7 .8l2.7 3.8l2.7 2.2l2.7 1.1l2.6 1.5l2.7 3.4l2.7 2.9l2.7 1.3l2.7 2.4l2.7 3.1l2.6 1.5l2.7 1.3l2.7 2.3l2.7 2.8l2.7 3.1l2.7 .2l2.6 3.5l2.7 3l2.7 1.3l2.7 1.6l2.7 1.9l2.7 2.7l2.6 2l2.7 1.6l2.7 3l2.7 1.3l2.7 4l2.7 1.7l2.6 1.6l2.7 2.7l2.7 2l2.7 2l2.7 1.2l2.7 3.5l2.6 2l2.7-.5l2.7 2.7l2.7 2.8l2.7 0l2.7 2.7l2.6 1.5l2.7 1.8l2.7 1.1l2.7 3l2.7 2.8l2.7 1.7l2.6 1.6l2.7 2.3l2.7 1.9l2.7 1.6l2.7 3.3l2.7 2.9l2.6 1.7l2.7 2.3l2.7 3.6l2.7 1.2l2.7 .9l2.7 2.5l2.6 1.8l2.7 2.7l2.7 1.8l2.7 2.6l2.7 .9l2.7 3.3l2.6 2.3l2.7 2.1l2.7 2l2.7 1.5l2.7 1.3l2.7 2.7l2.7 1.7l2.6 .2l2.7 3.4l2.7 1.7l2.7 2.3l2.7 1.6l2.7 3.1l2.6-.4l2.7 2.5l2.7 1.3l2.7 1.6l2.7 1.8l2.7 1l2.6 3.1l2.7 2.3l2.7 .6l2.7 2.4l2.7 1.1l2.7 1l2.6 2.6l2.7 1.2l2.7 2.8l2.7 .6l2.7 2.3l2.7 1.1l2.6 2.6l2.7 2.2l2.7 1.5l2.7 2.6l2.7 1.5l2.7 .8l2.6 1.2l2.7 1.5l2.7 2l2.7 .6l2.7 3l2.7 1.3l2.6 2l2.7 .9l2.7 1l2.7 2.1l2.7 2.1l2.7 .7l2.6 .9l2.7 1.3l2.7 1.4l2.7 1.4l2.7 1.8l2.7 1.3l2.6 1.6l2.7 2.5l2.7-.5l2.7 1.5l2.7 .9l2.7 1.2l2.6 1.6l2.7 1l2.7 .9l2.7 1l2.7 2l2.7 .9l2.6 1.1l2.7 .6l2.7 2l2.7 0l2.7 1.5l2.7 .9l2.6 1l2.7 1.3l2.7 .1l2.7 1.5l2.7 .4l2.7 1.8l2.7 .2l2.6 1.5l2.7 .6l2.7 0l2.7 .7l2.7 .5l2.7 .7l2.6 1l2.7 .6l1 .2" stroke="#0f0" stroke-width="7"/>
<path d="M358.3 1813l21.7 2l123.6 13l79.3 24l61.1 41l46.6 50l35.3 60l35.2 90l24.7 86l25.4 89l23.3 34l20.1-19l16.5-29l18.1-39l15.3-4l14.3 7l13.4 18l12.5 39l11.8 37l11.2 28l10.6 14l10.1-4l9.7-22l9.2-13l8.8 0l8.4 1l8.2 11l7.8 29l7.5 34l7.3 15l7 20l6.8-5l6.5-19l6.4-12l6.2-13l6 6l5.8 5l5.7 8l5.5 20l5.4 18l5.2 6l5.1 6l5-9l4.9 0l4.7-4l4.7 4l4.5 11l4.5 14l4.4 6l4.2 18l4.2 7l4.1-5l4-1l4-13l3.8-2l3.8 5l3.8 5l3.6 17l3.6 8l3.6 12l3.4-5l3.5 0l3.3 0l3.3-15l3.3 4l3.2-5l3.2 8l3.1 10l3.1 7l3 4l3 6l2.9 3l2.9-7l2.8-4l2.9-6l2.7-1l2.8 2l2.7 7l2.7 18l2.6 9l2.6-4l2.6 4l2.5 2l2.5 0l2.5-10l2.4 6l2.5 5l2.4 7l2.3 0l2.4 5l2.3-5l2.3-2l2.2-5l2.3 0l2.2-3l2.2 4l2.1 4l2.2 10l2.1 8l2.1 1l10.2 2l2 6l1.9 7l2 5l1.9 6l1.9 4l1.9 3l1.9 2l1.8-1l1.9-2l1.8-2l1.8-1l1.8-1l1.8 1l1.7 2l1.8 2l1.7 2l1.7 2l1.7 3l1.7 2l1.7 3l1.7 3l1.6 3l1.7 3l1.6 3l1.6 2l1.6 2l1.6 1l1.5 0l1.6 0l1.6-2l1.5-1l1.5-2l1.5-1l1.5-1l1.5 1l1.5 2l1.5 3l1.5 2l1.4 2l1.5 1l1.4 0l1.4-1l1.4-2l1.4-2l1.4-1l1.4 0l1.4 2l1.3 3l1.4 3l1.4 4l1.3 3l1.3 3l1.3 2l1.4 1l1.3 1l1.3-1l1.3 0l1.2 0l1.3 0l1.3 1l1.2 2l1.3 1l1.2 2l1.3 2l1.2 2l1.2 2l1.2 3l1.2 2l1.2 3l1.2 3l1.2 2l1.2 1l1.2 0l1.1 0l1.2 0l1.1 0l1.2-1l1.1-1l1.2-2l1.1-1l1.1-1l1.1 2l1.1 3l1.1 4l1.1 6l1.1 5l1.1 4l1.1 3l1.1 1l1-1l1.1-1l1.1-2l1-1l1.1-1l1 0l1-1l1.1-1l1 0l1-1l1 0l1.1 0l1 1l1 2l1 3l1 3l.9 4l1 3l1 2l1 1l1 0l.9-1l1-1l.9 0l1-1l.9 0l1 1l.9 0l1 1l.9 0l.9 1l.9 1l.9 0l1 1l.9 1l.9 0l.9 1l.9 1l.9 1l.9 2l.8 1l.9 1l.9 0l.9 0l.9-1l.8-1l.9-1l.8 0l.9 1l.9 1l.8 1l.9 1l.8 1l.8 0l.9 1l.8 2l.8 2l.9 3l.8 3l.8 3l.8 4l.8 3l.8 3l.9 0l.8 0l.8-2l.8-2l.7-3l.8-2l.8-2l.8-1l.8 0l.8 0l.8 2l.7 2l.8 2l.8 2l.7 1l.8 1l.8 1l.7 0l.8 1l.7 0l.8-1l.7 0l.8 0l.7 0l.7 0l.8 1l.7 1l.7 0l.8 1l.7 1l.7 0l.7 1l.7 1l.8 1l.7 3l.7 2l.7 3l.7 2l.7 0l.7 0l.7 0l.7-1l.7-1l.7-1l.7 0l.6 0l.7 0l.7 1l.7 1l.7 2l.6 2l.7 1l.7 2l.7 0l.6 0l.7-1l.7-2l.6-1l.7-1l.6 0l.7 1l.6 0l.7 1l.6 1l.7 2l.6 1l.7 1l.6 2l.6 1l.7 0l.6 1l.6 0l.7-1l.6-1l.6-1l.7-2l.6-1l.6-2l.6 0l.6 1l.6 1l.7 3l.6 2l.6 2l.6 2l.6 2l.6 1l.6 1l.6 0l.6 1l.6 0l.6 0l.6 0l.6 0l.6-1l.6-1l.5 0l.6-1l.6 1l.6 1l.6 2l.6 2l.5 2l.6 0l.6 1l.6-1l.5-1l.6-1l.6 0l.5 0l.6 1l.6 2l.5 2l.6 2l.5 2l.6 1l.6 1l.5 0l.6 0l.5-1l.6 0" stroke="#00f" stroke-width="3" stroke-dasharray="13 7.8"/>
<path d="M1586.2 2804.1l2.7 2.1l2.7-.4l2.7 .2l2.7 4.8l2.6-.5l2.7 1.1l2.7 8l2.7 4.4l2.7-.8l2.7-4.7l2.6 .6l2.7 4.1l2.7 7.3l2.7 6.6l2.7-.5l2.7-7.1l2.6 5.7l2.7 1.2l2.7 3.3l2.7 4.6" stroke="#00f" stroke-width="3.8"/>
<path d="M1639.9 2844.1l2.7-3.5l2.7 4.6l2.6 3.2l2.7-1.5l2.7 .8l2.7 4.9l2.7 2.2l2.7 5.4l2.6 4.9l2.7-1.3l2.7-1.1l2.7 4.5l2.7-1.5l2.7 7l2.6 5.2l2.7 1.1l2.7 3.8l2.7-.4l2.7-1.3l2.7 .5l2.6 5.5l2.7 5l2.7 2.6l2.7-.4" stroke="#00f" stroke-width="5"/>
<path d="M1704.3 2894.3l2.7-2.4l2.7 3.9l2.6 4.6l2.7-.9l2.7 4.3l2.7 6.4l2.7-1.1l2.7 .8l2.6 3.9l2.7 2.5l2.7 4l2.7-2.1l2.7 5.5l2.7 4.5l2.6 .8l2.7 1.5l2.7 .6l2.7 3.9l2.7 .5l2.7 1.1l2.6 1.5l2.7 2.7l2.7 .6l2.7 5.9l2.7 .3l2.7 6.1l2.6-.1l2.7 1.2l2.7 .3l2.7 5.7l2.7 1.9l2.7 1.3l2.6 3.4l2.7 1l2.7 1l2.7 2.5l2.7 3.3l2.7 1.9l2.7-1.8l2.6 5.7l2.7 .3l2.7 2.5l2.7 .7l2.7 4.4l2.7 1.5l2.6 2.2l2.7 2.6l2.7 3.9l2.7 2.2l2.7-.5l2.7 2.5l2.6 4.4l2.7 1.9l2.7 2.8l2.7 2l2.7 2.5l2.7-.1l2.6 1.2l2.7 6.8l2.7 .4l2.7-.4l2.7 3.6l2.7 3.2l2.6 2.5l2.7 .4l2.7 2.5l2.7 2.4l2.7 1.4l2.7 3.1l2.6 1.5l2.7 3.2l2.7 1.7l2.7 3.3l2.7-.4l2.7 3.5l2.6-.6l2.7 2.9l2.7 1.5l2.7 2.6l2.7 .7l2.7 3.4l2.6 2.9l2.7 .9l2.7 .9l2.7 1.1l2.7 4.5l2.7 .5l2.6 3.1l2.7 2l2.7 3.3l2.7 1.5l2.7 .7l2.7 2.7l2.6 2.2l2.7 3.4l2.7 2.9l2.7 1.3l2.7 .6l2.7 3.9l2.6 2.5l2.7 .5l2.7 2.3l2.7 3.4l2.7 .2l2.7 3.7l2.6 1.6l2.7 2.6l2.7 .4l2.7 2.6l2.7 1.1l2.7 3.5l2.7 2.5l2.6 1.3l2.7 .6l2.7 1.5l2.7 2.2l2.7 2.1l2.7 2.1l2.6 .5l2.7 3.7l2.7 1.3l2.7 .7l2.7 2.9l2.7 1.2l2.6 2.3l2.7 .8l2.7 2.7l2.7 1.5l2.7 1l2.7 2l2.6 1.4l2.7 1.9l2.7 2.9l2.7 .6l2.7 2.5l2.7 .3l2.6 2.7l2.7 1l2.7 3.1l2.7 1.3l2.7 1.8l2.7 1.2l2.6 1.6l2.7 1.8l2.7 1.4l2.7 1.7l2.7 1.6l2.7 1.8l2.6 .6l2.7 1.8l2.7 1.7l2.7 1.3l2.7 1.5l2.7 1.4l2.6 1.3l2.7 1.6l2.7 1.5l2.7 1l2.7 2.4l2.7 .4l2.6 1.6l2.7 2.1l2.7 .4l2.7 1.7l2.7 1l2.7 .6l2.6 1.4l2.7 1.6l2.7 1.8l2.7 .2l2.7 1.3l2.7 .7l2.6 1.9l2.7 1.2l2.7 .9l2.7 1.2l2.7 .6l2.7 1.3l2.6 1.1l2.7 .6l2.7 1l2.7 1l2.7 .5l2.7 1.2l2.7 .2l2.6 1.6l2.7 .7l2.7 .3l2.7 0l2.7 1l2.7 .9l2.6 1.4l2.7 .5l1-.4" stroke="#00f" stroke-width="7"/>
<path d="M358.3 1813l21.7 2l123.6 14l79.3 24l61.1 41l46.6 51l35.3 59l35.2 90l24.7 86l25.4 90l23.3 38l20.1-21l16.5-27l18.1-36l15.3-8l14.3 4l13.4 22l12.5 39l11.8 37l11.2 26l10.6 14l10.1-7l9.7-18l9.2-14l8.8-4l8.4 0l8.2 25l7.8 15l7.5 32l7.3 32l7 6l6.8-4l6.5-14l6.4-12l6.2-16l6 7l5.8-3l5.7 24l5.5 16l5.4 15l5.2 6l5.1 8l5-6l4.9-4l4.7-10l4.7 8l4.5 10l4.5 13l4.4 6l4.2 12l4.2 13l4.1-5l4-4l4-10l3.8 1l3.8-1l3.8 7l3.6 10l3.6 17l3.6 2l3.4 3l3.5 2l3.3-3l3.3-7l3.3-3l3.2 3l3.2-1l3.1 8l3.1 16l3 3l3 5l2.9-6l2.9 0l2.8-11l2.9-1l2.7-1l2.8 3l2.7 13l2.7 14l2.6 9l2.6-1l2.6-3l2.5 1l2.5-3l2.5-2l2.4 9l2.5-5l2.4 12l2.3 0l2.4-1l2.3 8l2.3-10l2.2-6l2.3 7l2.2-8l2.2 3l2.1 10l2.2-2l2.1 7l2.1 11l10.2 3l2 6l1.9 6l2 6l1.9 5l1.9 3l1.9 3l1.9 2l1.8-1l1.9-2l1.8-2l1.8-1l1.8 0l1.8 0l1.7 2l1.8 2l1.7 2l1.7 2l1.7 2l1.7 2l1.7 2l1.7 2l1.6 3l1.7 3l1.6 3l1.6 2l1.6 2l1.6 2l1.5 1l1.6 0l1.6-1l1.5-1l1.5-1l1.5-2l1.5-1l1.5 0l1.5 1l1.5 2l1.5 2l1.4 3l1.5 2l1.4 1l1.4 0l1.4-1l1.4-1l1.4 0l1.4 0l1.4 2l1.3 2l1.4 2l1.4 3l1.3 2l1.3 3l1.3 1l1.4 1l1.3 1l1.3 0l1.3 0l1.2 1l1.3 0l1.3 1l1.2 1l1.3 2l1.2 1l1.3 1l1.2 2l1.2 1l1.2 2l1.2 3l1.2 2l1.2 3l1.2 2l1.2 1l1.2 1l1.1 1l1.2 0l1.1 0l1.2-1l1.1 0l1.2-1l1.1 0l1.1 0l1.1 1l1.1 3l1.1 4l1.1 5l1.1 4l1.1 3l1.1 2l1.1 1l1-1l1.1-2l1.1-2l1-1l1.1-1l1-1l1 0l1.1 1l1 1l1 1l1 1l1.1 2l1 1l1 2l1 2l1 2l.9 3l1 2l1 2l1 1l1 0l.9-1l1-1l.9-1l1-1l.9 0l1-1l.9 0l1-1l.9 0l.9 1l.9 0l.9 2l1 1l.9 2l.9 2l.9 2l.9 2l.9 1l.9 2l.8 1l.9 0l.9 0l.9-1l.9-1l.8-2l.9 0l.8-1l.9 1l.9 1l.8 0l.9 1l.8 0l.8 1l.9 1l.8 2l.8 2l.9 3l.8 4l.8 4l.8 4l.8 3l.8 3l.9 1l.8-1l.8-2l.8-3l.7-3l.8-3l.8-2l.8-1l.8-1l.8 1l.8 1l.7 2l.8 2l.8 2l.7 2l.8 1l.8 1l.7 1l.8 0l.7 1l.8 0l.7-1l.8 0l.7 0l.7 0l.8 0l.7 1l.7 1l.8 1l.7 1l.7 2l.7 1l.7 2l.8 1l.7 3l.7 2l.7 2l.7 1l.7 0l.7-1l.7-1l.7-2l.7-2l.7 0l.7-1l.6 1l.7 1l.7 1l.7 2l.7 2l.6 2l.7 2l.7 1l.7 1l.6 0l.7-1l.7-1l.6-1l.7-1l.6-1l.7 0l.6 0l.7 1l.6 1l.7 1l.6 2l.7 1l.6 2l.6 2l.7 1l.6 0l.6 0l.7-1l.6-1l.6-2l.7-1l.6-2l.6-1l.6 0l.6 1l.6 2l.7 2l.6 3l.6 2l.6 2l.6 2l.6 1l.6 1l.6 0l.6 1l.6 0l.6 0l.6 0l.6-1l.6-1l.6 0l.5-1l.6 0l.6 1l.6 1l.6 2l.6 2l.5 1l.6 0l.6 0l.6-1l.5-1l.6 0l.6 0l.5 0l.6 1l.6 2l.5 1l.6 2l.5 0l.6 1l.6 0l.5-1l.6 0l.5 0l.6 0" stroke="#0ff" stroke-width="4" stroke-dasharray="13 7.8"/>
<path d="M1586.2 2803.7l2.7 2.8l2.7 .7l2.7 .5l2.7 4.4l2.6 .8l2.7 2l2.7 8.3l2.7 4l2.7-.3l2.7-4.6l2.6 .6l2.7 5.1l2.7 7.8l2.7 4.7l2.7-.7l2.7-6.6l2.6 6.1l2.7-1.2l2.7 5.4l2.7 4.1" stroke="#0ff" stroke-width="4.8"/>
<path d="M1639.9 2847.6l2.7-3.3l2.7 7l2.6 .4l2.7-1.4l2.7 1.5l2.7 7l2.7 1.1l2.7 1.7l2.6 5.5l2.7-.2l2.7-.4l2.7 5.5l2.7-1.3l2.7 6.4l2.6 3.6l2.7 1.5l2.7 3.6l2.7 1.1l2.7-2.5l2.7 1.3l2.6 2.7l2.7 6.5l2.7 2.5l2.7-.5" stroke="#0ff" stroke-width="6"/>
<path d="M1704.3 2896.9l2.7-1.9l2.7 1.7l2.6 4.5l2.7 1.9l2.7 4.4l2.7 5.8l2.7-.3l2.7-1.6l2.6 5.5l2.7 3.7l2.7 1.6l2.7-1.1l2.7 5.9l2.7 5.1l2.6 .6l2.7 2.5l2.7-.9l2.7 3.9l2.7 2.1l2.7-.5l2.6 .8l2.7 2.9l2.7 2.8l2.7 4.3l2.7 2.3l2.7 5l2.6 .8l2.7 1.1l2.7 .6l2.7 3.7l2.7 2.3l2.7-1l2.6 3.9l2.7 2l2.7 .2l2.7 4.5l2.7 3l2.7 0l2.7 1.2l2.6 5.6l2.7 1.9l2.7 2.1l2.7 .5l2.7 1.4l2.7 2l2.6 3.8l2.7 1.2l2.7 4l2.7 .9l2.7 1.5l2.7 1.6l2.6 3.3l2.7 3.6l2.7 3.6l2.7 1.2l2.7 2.9l2.7-.4l2.6 2l2.7 4.9l2.7 2l2.7-.2l2.7 2.1l2.7 1.9l2.6 1.6l2.7 2.8l2.7 3.4l2.7 .3l2.7 3.2l2.7 3.7l2.6 1.4l2.7 2.2l2.7-.5l2.7 3.4l2.7 1.2l2.7 2.2l2.6 2.9l2.7 1.4l2.7 1.1l2.7 2.9l2.7 1.8l2.7 1.3l2.6 1.7l2.7 2.6l2.7 2.6l2.7 2l2.7 .9l2.7 1.2l2.6 3.1l2.7 2.8l2.7 2.3l2.7 .8l2.7 2.7l2.7 3.3l2.6 2l2.7 1l2.7 3.6l2.7 1.5l2.7 2.3l2.7 3.6l2.6 .4l2.7 2.4l2.7 1.9l2.7 2.2l2.7 1.6l2.7 1.4l2.6 4l2.7 .4l2.7 2.4l2.7 2l2.7 2.3l2.7 2.6l2.7 1.3l2.6 1.5l2.7 1.9l2.7 2.3l2.7 1.2l2.7 2.7l2.7 2.3l2.6 .2l2.7 2.1l2.7 2.9l2.7 1.6l2.7 1.7l2.7 1.2l2.6 1.8l2.7 1.7l2.7 .8l2.7 3.1l2.7 1.6l2.7 1.1l2.6 1.8l2.7 2.8l2.7 .7l2.7 .6l2.7 2.2l2.7 2.6l2.6 2.2l2.7 1.4l2.7 2.6l2.7 .4l2.7 2.8l2.7 .8l2.6 2.1l2.7 .8l2.7 1.7l2.7 1.1l2.7 2.6l2.7 .7l2.6 1.8l2.7 1.4l2.7 1.6l2.7 1l2.7 1.8l2.7 1.5l2.6 1.7l2.7 .2l2.7 2.6l2.7 .8l2.7 2l2.7 1.4l2.6 .8l2.7 1.4l2.7 1.2l2.7 1l2.7 1.4l2.7 1l2.6 1.5l2.7 1.7l2.7 1l2.7 1.1l2.7 1.3l2.7 .4l2.6 1.7l2.7 .6l2.7 2l2.7 .7l2.7 .6l2.7 .8l2.6 1.3l2.7 1.2l2.7 .3l2.7 .8l2.7 1.3l2.7 .8l2.7 .9l2.6 .5l2.7 .7l2.7 .9l2.7 .7l2.7 .8l2.7 .5l2.6 1l2.7 .7l1 2.1" stroke="#0ff" stroke-width="7"/>
<path d="M358.3 1813l21.7 2l123.6 13l79.3 24l61.1 41l46.6 50l35.3 60l35.2 90l24.7 86l25.4 89l23.3 35l20.1-19l16.5-32l18.1-33l15.3-9l14.3 7l13.4 23l12.5 35l11.8 36l11.2 31l10.6 14l10.1-7l9.7-17l9.2-14l8.8-6l8.4 3l8.2 16l7.8 25l7.5 29l7.3 25l7 13l6.8-6l6.5-16l6.4-14l6.2-9l6-1l5.8 6l5.7 15l5.5 18l5.4 16l5.2 9l5.1 3l5-4l4.9-6l4.7-2l4.7 4l4.5 10l4.5 12l4.4 12l4.2 12l4.2 7l4.1-2l4-5l4-6l3.8-3l3.8 2l3.8 8l3.6 10l3.6 12l3.6 8l3.4 3l3.5 0l3.3-7l3.3-8l3.3-3l3.2 2l3.2 4l3.1 7l3.1 11l3 8l3 3l2.9-2l2.9-4l2.8-5l2.9-4l2.7-1l2.8 3l2.7 10l2.7 13l2.6 9l2.6 2l2.6-1l2.5-1l2.5-2l2.5 0l2.4 1l2.5 4l2.4 5l2.3 5l2.4 1l2.3-2l2.3-3l2.2-3l2.3-3l2.2-1l2.2 2l2.1 5l2.2 7l2.1 7l2.1 5l10.2 3l2 6l1.9 6l2 6l1.9 5l1.9 3l1.9 3l1.9 1l1.8-1l1.9-2l1.8-1l1.8 0l1.8 1l1.8 1l1.7 2l1.8 2l1.7 2l1.7 2l1.7 2l1.7 1l1.7 2l1.7 2l1.6 3l1.7 2l1.6 3l1.6 3l1.6 2l1.6 2l1.5 1l1.6 0l1.6-1l1.5-2l1.5-1l1.5-2l1.5-1l1.5 1l1.5 1l1.5 3l1.5 3l1.4 3l1.5 1l1.4 1l1.4-1l1.4-2l1.4-1l1.4-1l1.4 0l1.4 1l1.3 2l1.4 3l1.4 3l1.3 4l1.3 2l1.3 2l1.4 1l1.3 1l1.3 0l1.3-1l1.2 0l1.3 1l1.3 1l1.2 1l1.3 2l1.2 1l1.3 1l1.2 1l1.2 2l1.2 1l1.2 2l1.2 2l1.2 2l1.2 2l1.2 2l1.2 1l1.1 0l1.2 0l1.1 1l1.2 0l1.1-1l1.2 0l1.1-1l1.1 0l1.1 2l1.1 3l1.1 4l1.1 5l1.1 5l1.1 4l1.1 3l1.1 0l1 0l1.1-2l1.1-1l1-1l1.1-1l1 0l1 0l1.1 0l1 0l1 0l1 1l1.1 0l1 1l1 1l1 2l1 2l.9 3l1 2l1 2l1 2l1 0l.9 0l1 0l.9-1l1-1l.9 0l1-1l.9 0l1 0l.9 0l.9 1l.9 1l.9 1l1 2l.9 1l.9 2l.9 1l.9 1l.9 1l.9 2l.8 1l.9 0l.9 0l.9 0l.9-1l.8-1l.9-1l.8 0l.9 0l.9 1l.8 1l.9 1l.8 1l.8 1l.9 1l.8 1l.8 2l.9 2l.8 3l.8 3l.8 4l.8 3l.8 2l.9 0l.8 0l.8-2l.8-3l.7-2l.8-2l.8-1l.8-1l.8 1l.8 0l.8 2l.7 1l.8 1l.8 1l.7 2l.8 1l.8 1l.7 0l.8 1l.7 0l.8-1l.7 0l.8 0l.7 0l.7 1l.8 1l.7 1l.7 2l.8 1l.7 2l.7 1l.7 1l.7 1l.8 1l.7 2l.7 2l.7 2l.7 1l.7 0l.7-1l.7-1l.7-1l.7-1l.7-1l.7 0l.6 0l.7 0l.7 1l.7 1l.7 1l.6 2l.7 1l.7 2l.7 1l.6 0l.7-1l.7 0l.6-1l.7-1l.6 0l.7 0l.6 0l.7 1l.6 1l.7 2l.6 2l.7 2l.6 1l.6 1l.7 1l.6 0l.6 0l.7-1l.6 0l.6-1l.7-1l.6-2l.6-1l.6 0l.6 0l.6 1l.7 2l.6 3l.6 2l.6 2l.6 1l.6 1l.6 1l.6 0l.6 1l.6 0l.6 0l.6 0l.6 0l.6 0l.6-1l.5 0l.6-1l.6 0l.6 0l.6 1l.6 1l.5 0l.6 1l.6 0l.6 0l.5 0l.6 0l.6 1l.5 1l.6 2l.6 2l.5 1l.6 2l.5 1l.6 0l.6 0l.5-1l.6 0l.5-1l.6 0" stroke="#f0f" stroke-width="4" stroke-dasharray="13 7.8"/>
<path d="M1586.2 2800.3l2.7 3.6l2.7 2.7l2.7 1.7l2.7 3.5l2.6-.8l2.7 .2l2.7 8.4l2.7 4.6l2.7-.8l2.7-3.4l2.6 0l2.7 2.9l2.7 8.5l2.7 5.7l2.7-1.1l2.7-7.6l2.6 6l2.7 2.8l2.7 5.3l2.7 2.8" stroke="#f0f" stroke-width="4.8"/>
<path d="M1639.9 2845.3l2.7-1l2.7 5l2.6 1.8l2.7-1.7l2.7 .1l2.7 6.4l2.7-1.4l2.7 4.7l2.6 7.6l2.7-1.2l2.7-1.7l2.7 7l2.7-2.5l2.7 5.7l2.6 5.6l2.7 .4l2.7 1.2l2.7 1.8l2.7 2.1l2.7 .3l2.6 1.4l2.7 4.4l2.7 3.3l2.7-1.5" stroke="#f0f" stroke-width="6"/>
<path d="M1704.3 2893.1l2.7 0l2.7 2.3l2.6 4.7l2.7 .7l2.7 5.1l2.7 5.6l2.7-1.5l2.7 .1l2.6 1.9l2.7 4.9l2.7 5.7l2.7-3.1l2.7 3.5l2.7 3.6l2.6 3.8l2.7 2.3l2.7 .2l2.7 3l2.7 .6l2.7 .6l2.6 1.4l2.7 1.4l2.7 3.6l2.7 5.2l2.7 1.5l2.7 3.5l2.6 .9l2.7 2.7l2.7 1.4l2.7 4l2.7-.6l2.7 2.1l2.6 3.3l2.7 .4l2.7 1.6l2.7 3.4l2.7 3.9l2.7-1.8l2.7 2.3l2.6 5.9l2.7 .6l2.7 1.3l2.7 3.4l2.7 1.7l2.7 1.9l2.6 3.2l2.7 .7l2.7 3.4l2.7 0l2.7 1.2l2.7 2.7l2.6 4.9l2.7 2l2.7 .6l2.7 3.2l2.7 2.8l2.7 1.4l2.6 1.3l2.7 3.2l2.7 3l2.7 .4l2.7 3.2l2.7 3l2.6 3.3l2.7 1.4l2.7 1.2l2.7 1.9l2.7 2.3l2.7 3.8l2.6 1.3l2.7 1.5l2.7 1.4l2.7 3.3l2.7 1.5l2.7 .3l2.6 2.1l2.7 3.1l2.7 .3l2.7 2.2l2.7 2.7l2.7 1.2l2.6 2.2l2.7 1.8l2.7 1.2l2.7 1.3l2.7 4.7l2.7 .5l2.6 2.5l2.7 2.9l2.7 3.2l2.7 1.3l2.7 1.6l2.7 2.2l2.6 2.7l2.7 2.6l2.7 1l2.7 2.3l2.7 2.7l2.7 1.9l2.6 1.5l2.7 2.4l2.7 3.2l2.7 1.6l2.7 1.1l2.7 2.9l2.6 2.3l2.7 .4l2.7 2.9l2.7 1.8l2.7 2.1l2.7 3.2l2.7 1.6l2.6 1.9l2.7 1.9l2.7 1.5l2.7 1.6l2.7 1.9l2.7 2.3l2.6 .6l2.7 2.7l2.7 1l2.7 1.3l2.7 2l2.7 .9l2.6 2.9l2.7 .8l2.7 2.2l2.7 2.3l2.7 .9l2.7 2.9l2.6 1.7l2.7 .9l2.7 1.1l2.7 2.9l2.7 1.8l2.7 2.3l2.6 1l2.7-.2l2.7 3.1l2.7 2.1l2.7 2.4l2.7 1.3l2.6 1.4l2.7 .7l2.7 2.7l2.7 1.6l2.7 1.3l2.7 1.7l2.6 .8l2.7 2.2l2.7 1.6l2.7 1.1l2.7 2.2l2.7 1.1l2.6 1l2.7 1.5l2.7 2.4l2.7 1.4l2.7 .2l2.7 1.4l2.6 1.3l2.7 2.3l2.7 .6l2.7 .9l2.7 .7l2.7 2.4l2.6 .5l2.7 1.6l2.7 .3l2.7 2l2.7 .9l2.7 1.1l2.6 1.7l2.7 .8l2.7 1.9l2.7 .4l2.7 .5l2.7 1.8l2.6-.2l2.7 1.4l2.7-.1l2.7 1.2l2.7 1.4l2.7 2l2.7 0l2.6 .9l2.7 .6l2.7 .3l2.7 .6l2.7 .5l2.7 1.4l2.6 .7l2.7 0l1-1.3" stroke="#f0f" stroke-width="7.8"/>
<path d="M358.3 1814l21.7 2l123.6 14l79.3 24l61.1 41l46.6 51l35.3 60l35.2 90l24.7 86l25.4 92l23.3 43l20.1-19l16.5-33l18.1-35l15.3-10l14.3 6l13.4 27l12.5 32l11.8 40l11.2 26l10.6 18l10.1-9l9.7-19l9.2-9l8.8-10l8.4 6l8.2 17l7.8 23l7.5 25l7.3 28l7 15l6.8-11l6.5-13l6.4-17l6.2-9l6-2l5.8 4l5.7 18l5.5 20l5.4 10l5.2 13l5.1 4l5-6l4.9-2l4.7-7l4.7 9l4.5 9l4.5 11l4.4 9l4.2 19l4.2 1l4.1 1l4-11l4-5l3.8 0l3.8-3l3.8 14l3.6 13l3.6 3l3.6 12l3.4 6l3.5-4l3.3-3l3.3-10l3.3-9l3.2 2l3.2 8l3.1 11l3.1 5l3 15l3-6l2.9 5l2.9-7l2.8-5l2.9-5l2.7-2l2.8 5l2.7 6l2.7 20l2.6 2l2.6 8l2.6-6l2.5-3l2.5 5l2.5-1l2.4 0l2.5 9l2.4-2l2.3 10l2.4-1l2.3 2l2.3-12l2.2-1l2.3-3l2.2-2l2.2 0l2.1 9l2.2 6l2.1 5l2.1 8l10.2 3l2 6l1.9 6l2 6l1.9 5l1.9 4l1.9 3l1.9 2l1.8-2l1.9-2l1.8-2l1.8-1l1.8 1l1.8 2l1.7 2l1.8 2l1.7 2l1.7 2l1.7 2l1.7 2l1.7 3l1.7 3l1.6 3l1.7 3l1.6 3l1.6 2l1.6 2l1.6 1l1.5 0l1.6-1l1.6-1l1.5-2l1.5-2l1.5-1l1.5-1l1.5 1l1.5 1l1.5 3l1.5 4l1.4 2l1.5 3l1.4 0l1.4 0l1.4-2l1.4-1l1.4-2l1.4 0l1.4 1l1.3 2l1.4 3l1.4 3l1.3 3l1.3 3l1.3 2l1.4 1l1.3 0l1.3 0l1.3 0l1.2 0l1.3 1l1.3 1l1.2 2l1.3 2l1.2 2l1.3 1l1.2 1l1.2 1l1.2 2l1.2 2l1.2 2l1.2 2l1.2 2l1.2 2l1.2 1l1.1 1l1.2 1l1.1 1l1.2 0l1.1-1l1.2-1l1.1-1l1.1-1l1.1 1l1.1 3l1.1 4l1.1 5l1.1 6l1.1 4l1.1 3l1.1 1l1-1l1.1-2l1.1-2l1-2l1.1-1l1-1l1 0l1.1 0l1 0l1 1l1 0l1.1 1l1 1l1 2l1 2l1 2l.9 3l1 2l1 2l1 1l1-1l.9 0l1-1l.9-1l1-1l.9 0l1 1l.9 0l1 0l.9 0l.9 1l.9 0l.9 1l1 1l.9 2l.9 1l.9 1l.9 2l.9 2l.9 1l.8 1l.9 1l.9 0l.9 0l.9-1l.8-1l.9-1l.8 0l.9 0l.9 1l.8 1l.9 1l.8 2l.8 1l.9 2l.8 2l.8 3l.9 2l.8 4l.8 3l.8 4l.8 3l.8 2l.9 1l.8 0l.8-2l.8-2l.7-3l.8-2l.8-2l.8-2l.8 0l.8 0l.8 1l.7 2l.8 1l.8 2l.7 1l.8 1l.8 0l.7 1l.8-1l.7 0l.8 0l.7-1l.8 0l.7 1l.7 1l.8 1l.7 2l.7 1l.8 2l.7 1l.7 0l.7 1l.7 1l.8 1l.7 2l.7 2l.7 2l.7 2l.7 1l.7 0l.7-1l.7-1l.7-1l.7-1l.7 0l.6-1l.7 0l.7 1l.7 1l.7 1l.6 2l.7 2l.7 2l.7 2l.6 0l.7-1l.7 0l.6-1l.7-1l.6 0l.7 0l.6 1l.7 1l.6 1l.7 1l.6 1l.7 1l.6 0l.6 1l.7-1l.6 0l.6 0l.7 0l.6-1l.6 0l.7-1l.6-1l.6-1l.6 0l.6 0l.6 2l.7 2l.6 3l.6 2l.6 2l.6 1l.6 1l.6 1l.6 1l.6 1l.6 0l.6 1l.6 0l.6-1l.6-1l.6 0l.5-1l.6 1l.6 1l.6 1l.6 2l.6 2l.5 1l.6 1l.6-1l.6-1l.5-2l.6-1l.6 0l.5 0l.6 2l.6 2l.5 2l.6 2l.5 1l.6 1l.6 1l.5 0l.6 0l.5-1l.6 0" stroke="#ff0" stroke-width="4" stroke-dasharray="13 7.8"/>
<path d="M1586.2 2813l2.7 2.6l2.7 .4l2.7 1l2.7 5.5l2.6 .1l2.7-.2l2.7 7.2l2.7 4l2.7-1.7l2.7-4.5l2.6-.9l2.7 6.2l2.7 9.1l2.7 5.5l2.7 .7l2.7-7l2.6 3.1l2.7 2.2l2.7 5.2l2.7 5" stroke="#ff0" stroke-width="4.8"/>
<path d="M1639.9 2856.5l2.7-3.2l2.7 2.7l2.6 4.5l2.7-2.1l2.7-.4l2.7 6.1l2.7 4.2l2.7 3.6l2.6 4.2l2.7-1.7l2.7 .8l2.7 4.9l2.7-1.6l2.7 6.9l2.6 4.4l2.7-.1l2.7 2.7l2.7 1.6l2.7-1.1l2.7 .8l2.6 1.7l2.7 8.5l2.7 2.4l2.7-.8" stroke="#ff0" stroke-width="6"/>
<path d="M1704.3 2905.5l2.7 .6l2.7 1.2l2.6 4.1l2.7 1.6l2.7 3.4l2.7 6.8l2.7-.8l2.7-.7l2.6 1.9l2.7 6.1l2.7 3.2l2.7-4.1l2.7 6.3l2.7 5.9l2.6 1.8l2.7 .2l2.7-.3l2.7 2.8l2.7 2.7l2.7 .7l2.6 2l2.7 1.6l2.7 1.4l2.7 4.5l2.7 1.8l2.7 5.5l2.6 1.3l2.7 1.5l2.7-.8l2.7 4.6l2.7 2.8l2.7 .4l2.6 2.9l2.7 1l2.7 2.2l2.7 2.7l2.7 4.2l2.7 1.1l2.7 .7l2.6 4.6l2.7-1l2.7 2.2l2.7 2.7l2.7 3.9l2.7 1.4l2.6 .7l2.7 2l2.7 4.8l2.7 1l2.7-.1l2.7 3l2.6 5.3l2.7 1.7l2.7 1.8l2.7 .8l2.7 1.3l2.7 2.1l2.6 2.5l2.7 3.4l2.7 2.2l2.7 .1l2.7 2.6l2.7 1.9l2.6 4.1l2.7 2.2l2.7-.4l2.7 2.6l2.7 3.3l2.7 2.5l2.6 3.5l2.7 1.4l2.7 .3l2.7 4.2l2.7 1.2l2.7 3.4l2.6-.1l2.7 2.4l2.7 .8l2.7 2.9l2.7 1l2.7 2.5l2.6 2.6l2.7 .9l2.7 2.2l2.7 3.5l2.7 1.7l2.7 .8l2.6 2.2l2.7 3.2l2.7 2.2l2.7 3.1l2.7 .8l2.7 1.7l2.6 2.5l2.7 2.9l2.7 1.3l2.7 3.5l2.7 .6l2.7 2.7l2.6 2.2l2.7 1.3l2.7 2l2.7 2.4l2.7 3.9l2.7 .8l2.6 2l2.7 2.2l2.7 1.6l2.7 1.1l2.7 3.5l2.7 .7l2.7 2.4l2.6 2.3l2.7 1.1l2.7 .7l2.7 2.6l2.7 2.7l2.7 1.8l2.6 .8l2.7 2.1l2.7 2.5l2.7 1.4l2.7 1.4l2.7 .7l2.6 2.5l2.7 2.2l2.7 1.7l2.7 1.8l2.7 .1l2.7 3.5l2.6 1.7l2.7 2.5l2.7 1l2.7 1.5l2.7 1l2.7 2.9l2.6 1.6l2.7 .4l2.7 3.6l2.7 .6l2.7 2.4l2.7 1.9l2.6 1.1l2.7 1.8l2.7 1l2.7 1.7l2.7 2.1l2.7 .8l2.6 2l2.7 .5l2.7 3.4l2.7 .5l2.7 1.2l2.7 1.4l2.6 1.5l2.7 .7l2.7 1.9l2.7 1.1l2.7 2.6l2.7 .7l2.6 1.9l2.7 1.3l2.7 .7l2.7 1.1l2.7 1l2.7 1.5l2.6 1.2l2.7 1.2l2.7 1.4l2.7 1.2l2.7 .8l2.7 .6l2.6 2l2.7 .8l2.7 1.8l2.7 .3l2.7 2.1l2.7 .4l2.6 0l2.7 1.5l2.7 .9l2.7 .7l2.7 .8l2.7 1.2l2.7 .6l2.6 .9l2.7 .4l2.7 .5l2.7 .3l2.7 1.9l2.7 .3l2.6 1.4l2.7-.3l1 1.6" stroke="#ff0" stroke-width="7.8"/>
</g>
<g fill="none" shape-rendering="crispEdges">
<path d="M567.9 892.5H721" stroke="#000" stroke-width="3"/>
<path d="M567.9 974.9H721" stroke="#f00" stroke-width="3" stroke-dasharray="13 7.8"/>
<path d="M567.9 1057.3H721" stroke="#0f0" stroke-width="4" stroke-dasharray="13 7.8"/>
<path d="M567.9 1139.7H721" stroke="#00f" stroke-width="3" stroke-dasharray="13 7.8"/>
<path d="M567.9 1222.1H721" stroke="#f0f" stroke-width="4" stroke-dasharray="13 7.8"/>
<path d="M567.9 1304.5H721" stroke="#0ff" stroke-width="4" stroke-dasharray="13 7.8"/>
</g>
<g font-size="67.25">
<text x="737" y="914.5">Original</text>
<text x="737" y="996.9">IMF1</text>
<text x="737" y="1079.3">IMF2</text>
<text x="737" y="1161.7">IMF3</text>
<text x="737" y="1244.1">IMF4</text>
<text x="737" y="1326.5">IMF5</text>
</g>
<g fill="none" shape-rendering="crispEdges">
<path d="M1567.9 1959H1721" stroke="#000" stroke-width="3"/>
<path d="M1567.9 2041.5H1721" stroke="#f00" stroke-width="3" stroke-dasharray="13 7.8"/>
<path d="M1567.9 2123.9H1721" stroke="#0f0" stroke-width="4" stroke-dasharray="13 7.8"/>
<path d="M1567.9 2206.3H1721" stroke="#00f" stroke-width="3" stroke-dasharray="13 7.8"/>
<path d="M1567.9 2288.8H1721" stroke="#f0f" stroke-width="4" stroke-dasharray="13 7.8"/>
<path d="M1567.9 2371.2H1721" stroke="#0ff" stroke-width="4" stroke-dasharray="13 7.8"/>
<path d="M1567.9 2453.7H1721" stroke="#f0f" stroke-width="3" stroke-dasharray="13 7.8"/>
<path d="M1567.9 2536.2H1721" stroke="#ff0" stroke-width="4" stroke-dasharray="13 7.8"/>
</g>
<g font-size="67.25">
<text x="1737" y="1981">Original</text>
<text x="1737" y="2063.4">IMF7</text>
<text x="1737" y="2145.9">IMF8</text>
<text x="1737" y="2228.3">IMF9</text>
<text x="1737" y="2310.8">IMF10</text>
<text x="1737" y="2393.2">IMF11</text>
<text x="1737" y="2475.7">IMF12</text>
<text x="1737" y="2558.2">Residue</text>
</g>
<g class="cap" font-size="87.8">
<text transform="translate(767.0 1772.3) scale(0.931 1)" xml:space="preserve">(<tspan font-weight="bold">a</tspan>) </text>
<text transform="translate(885.2 1772.3) scale(0.993 1)" xml:space="preserve">ASDs </text>
<text transform="translate(1112.2 1772.3) scale(1.029 1)" xml:space="preserve">of </text>
<text transform="translate(1206.8 1772.3) scale(1.003 1)" xml:space="preserve">IMFs </text>
<text transform="translate(1416.0 1772.3) scale(0.956 1)" xml:space="preserve">1–5</text>
</g>
<g class="cap" font-size="87.8">
<text transform="translate(445.5 3569.9) scale(0.981 1)" xml:space="preserve">(<tspan font-weight="bold">b</tspan>) </text>
<text transform="translate(571.3 3569.9) scale(0.999 1)" xml:space="preserve">ASDs </text>
<text transform="translate(798.0 3569.9) scale(1.137 1)" xml:space="preserve">of </text>
<text transform="translate(894.4 3569.9) scale(0.992 1)" xml:space="preserve">IMFs </text>
<text transform="translate(1100.7 3569.9) scale(0.981 1)" xml:space="preserve">7–12 </text>
<text transform="translate(1291.2 3569.9) scale(1.100 1)" xml:space="preserve">and </text>
<text transform="translate(1455.4 3569.9) scale(1.067 1)" xml:space="preserve">the </text>
<text transform="translate(1590.1 3569.9) scale(1.074 1)" xml:space="preserve">residue</text>
</g>
</svg>
</body>
</html>
